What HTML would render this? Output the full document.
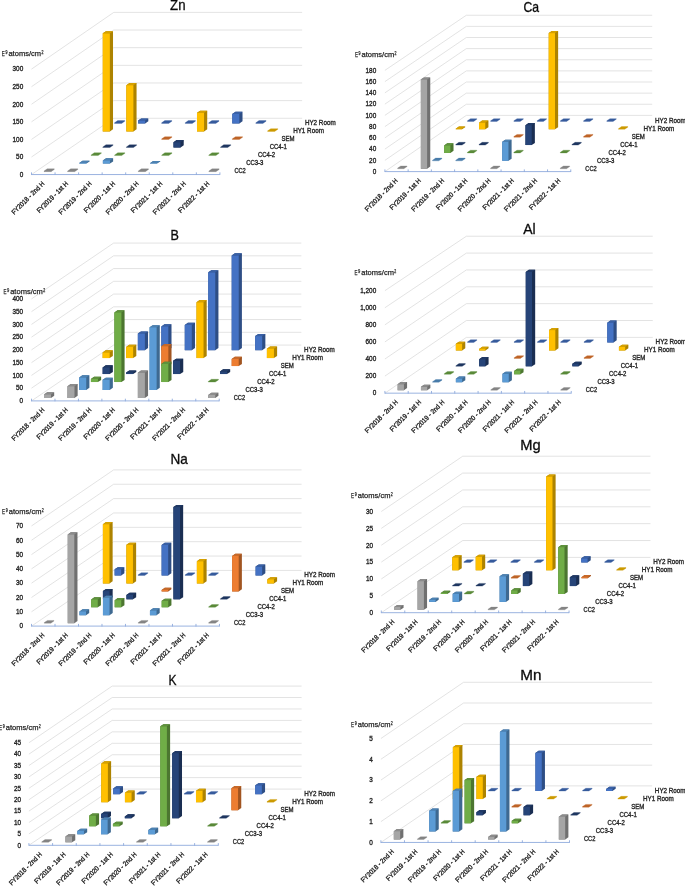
<!DOCTYPE html>
<html><head><meta charset="utf-8"><style>
html,body{margin:0;padding:0;background:#fff;}
svg{display:block;will-change:transform;}
text{font-family:"Liberation Sans",sans-serif;stroke:#262626;stroke-width:0.35px;}
</style></head><body>
<svg width="685" height="886" viewBox="0 0 685 886">
<rect width="685" height="886" fill="#fff"/>
<path d="M31.50 174.56L113.75 118.28L302.15 118.28 M31.50 156.99L113.75 100.63L302.15 100.63 M31.50 139.41L113.75 82.98L302.15 82.98 M31.50 121.84L113.75 65.33L302.15 65.33 M31.50 104.26L113.75 47.68L302.15 47.68 M31.50 86.69L113.75 30.03L302.15 30.03 M31.50 69.11L113.75 12.38L302.15 12.38" stroke="#d9d9d9" stroke-width="0.75" fill="none"/>
<text x="23.20" y="176.86" font-size="7.2" text-anchor="end" fill="#262626" textLength="3.55" lengthAdjust="spacingAndGlyphs">0</text>
<text x="23.20" y="159.29" font-size="7.2" text-anchor="end" fill="#262626" textLength="7.10" lengthAdjust="spacingAndGlyphs">50</text>
<text x="23.20" y="141.71" font-size="7.2" text-anchor="end" fill="#262626" textLength="10.65" lengthAdjust="spacingAndGlyphs">100</text>
<text x="23.20" y="124.14" font-size="7.2" text-anchor="end" fill="#262626" textLength="10.65" lengthAdjust="spacingAndGlyphs">150</text>
<text x="23.20" y="106.56" font-size="7.2" text-anchor="end" fill="#262626" textLength="10.65" lengthAdjust="spacingAndGlyphs">200</text>
<text x="23.20" y="88.98" font-size="7.2" text-anchor="end" fill="#262626" textLength="10.65" lengthAdjust="spacingAndGlyphs">250</text>
<text x="23.20" y="71.41" font-size="7.2" text-anchor="end" fill="#262626" textLength="10.65" lengthAdjust="spacingAndGlyphs">300</text>
<path d="M31.50 174.56H219.90 M31.50 174.96v-2.6 M55.05 174.96v-2.6 M78.60 174.96v-2.6 M102.15 174.96v-2.6 M125.70 174.96v-2.6 M149.25 174.96v-2.6 M172.80 174.96v-2.6 M196.35 174.96v-2.6 M219.90 174.96v-2.6" stroke="#8faadc" stroke-width="0.9" fill="none"/>
<polygon points="114.53,123.39 121.60,123.39 124.77,121.21 124.77,120.61 117.70,120.61 114.53,122.79" fill="#365b9d" stroke="#365b9d" stroke-width="0.3" stroke-linejoin="round"/>
<polygon points="138.08,123.39 145.15,123.39 148.32,121.21 148.32,118.40 141.25,118.40 138.08,120.57" fill="#2e4e85"/>
<polygon points="138.08,120.57 145.15,120.57 148.32,118.40 141.25,118.40" fill="#3960a5"/>
<polygon points="138.08,123.39 145.15,123.39 145.15,120.57 138.08,120.57" fill="#4472C4"/>
<polygon points="161.63,123.39 168.70,123.39 171.87,121.21 171.87,120.61 164.80,120.61 161.63,122.79" fill="#365b9d" stroke="#365b9d" stroke-width="0.3" stroke-linejoin="round"/>
<polygon points="185.18,123.39 192.25,123.39 195.42,121.21 195.42,120.61 188.35,120.61 185.18,122.79" fill="#365b9d" stroke="#365b9d" stroke-width="0.3" stroke-linejoin="round"/>
<polygon points="208.73,123.39 215.80,123.39 218.97,121.21 218.97,120.61 211.90,120.61 208.73,122.79" fill="#365b9d" stroke="#365b9d" stroke-width="0.3" stroke-linejoin="round"/>
<polygon points="232.28,123.39 239.35,123.39 242.52,121.21 242.52,111.72 235.45,111.72 232.28,113.89" fill="#2e4e85"/>
<polygon points="232.28,113.89 239.35,113.89 242.52,111.72 235.45,111.72" fill="#3960a5"/>
<polygon points="232.28,123.39 239.35,123.39 239.35,113.89 232.28,113.89" fill="#4472C4"/>
<polygon points="255.83,123.39 262.90,123.39 266.07,121.21 266.07,120.61 259.00,120.61 255.83,122.79" fill="#365b9d" stroke="#365b9d" stroke-width="0.3" stroke-linejoin="round"/>
<polygon points="102.78,131.43 109.85,131.43 113.02,129.25 113.02,31.19 105.95,31.19 102.78,33.36" fill="#ad8300"/>
<polygon points="102.78,33.36 109.85,33.36 113.02,31.19 105.95,31.19" fill="#d6a100"/>
<polygon points="102.78,131.43 109.85,131.43 109.85,33.36 102.78,33.36" fill="#FFC000"/>
<polygon points="126.33,131.43 133.40,131.43 136.57,129.25 136.57,83.03 129.50,83.03 126.33,85.20" fill="#ad8300"/>
<polygon points="126.33,85.20 133.40,85.20 136.57,83.03 129.50,83.03" fill="#d6a100"/>
<polygon points="126.33,131.43 133.40,131.43 133.40,85.20 126.33,85.20" fill="#FFC000"/>
<polygon points="196.98,131.43 204.05,131.43 207.22,129.25 207.22,110.63 200.15,110.63 196.98,112.80" fill="#ad8300"/>
<polygon points="196.98,112.80 204.05,112.80 207.22,110.63 200.15,110.63" fill="#d6a100"/>
<polygon points="196.98,131.43 204.05,131.43 204.05,112.80 196.98,112.80" fill="#FFC000"/>
<polygon points="267.63,131.43 274.70,131.43 277.87,129.25 277.87,128.65 270.80,128.65 267.63,130.83" fill="#cc9a00" stroke="#cc9a00" stroke-width="0.3" stroke-linejoin="round"/>
<polygon points="161.68,139.47 168.75,139.47 171.92,137.29 171.92,136.69 164.85,136.69 161.68,138.87" fill="#be6427" stroke="#be6427" stroke-width="0.3" stroke-linejoin="round"/>
<polygon points="232.33,139.47 239.40,139.47 242.57,137.29 242.57,136.69 235.50,136.69 232.33,138.87" fill="#be6427" stroke="#be6427" stroke-width="0.3" stroke-linejoin="round"/>
<polygon points="102.83,147.51 109.90,147.51 113.07,145.33 113.07,144.73 106.00,144.73 102.83,146.91" fill="#1e3660" stroke="#1e3660" stroke-width="0.3" stroke-linejoin="round"/>
<polygon points="126.38,147.51 133.45,147.51 136.62,145.33 136.62,144.73 129.55,144.73 126.38,146.91" fill="#1e3660" stroke="#1e3660" stroke-width="0.3" stroke-linejoin="round"/>
<polygon points="173.48,147.51 180.55,147.51 183.72,145.33 183.72,140.06 176.65,140.06 173.48,142.23" fill="#1a2e52"/>
<polygon points="173.48,142.23 180.55,142.23 183.72,140.06 176.65,140.06" fill="#203965"/>
<polygon points="173.48,147.51 180.55,147.51 180.55,142.23 173.48,142.23" fill="#264478"/>
<polygon points="220.58,147.51 227.65,147.51 230.82,145.33 230.82,144.73 223.75,144.73 220.58,146.91" fill="#1e3660" stroke="#1e3660" stroke-width="0.3" stroke-linejoin="round"/>
<polygon points="91.08,155.55 98.15,155.55 101.32,153.37 101.32,152.77 94.25,152.77 91.08,154.95" fill="#5a8a39" stroke="#5a8a39" stroke-width="0.3" stroke-linejoin="round"/>
<polygon points="114.63,155.55 121.70,155.55 124.87,153.37 124.87,152.77 117.80,152.77 114.63,154.95" fill="#5a8a39" stroke="#5a8a39" stroke-width="0.3" stroke-linejoin="round"/>
<polygon points="161.73,155.55 168.80,155.55 171.97,153.37 171.97,152.77 164.90,152.77 161.73,154.95" fill="#5a8a39" stroke="#5a8a39" stroke-width="0.3" stroke-linejoin="round"/>
<polygon points="208.83,155.55 215.90,155.55 219.07,153.37 219.07,152.77 212.00,152.77 208.83,154.95" fill="#5a8a39" stroke="#5a8a39" stroke-width="0.3" stroke-linejoin="round"/>
<polygon points="79.33,163.59 86.40,163.59 89.57,161.41 89.57,160.71 82.50,160.71 79.33,162.88" fill="#3e6991"/>
<polygon points="79.33,162.88 86.40,162.88 89.57,160.71 82.50,160.71" fill="#4c82b3"/>
<polygon points="79.33,163.59 86.40,163.59 86.40,162.88 79.33,162.88" fill="#5B9BD5"/>
<polygon points="102.88,163.59 109.95,163.59 113.12,161.41 113.12,158.25 106.05,158.25 102.88,160.42" fill="#3e6991"/>
<polygon points="102.88,160.42 109.95,160.42 113.12,158.25 106.05,158.25" fill="#4c82b3"/>
<polygon points="102.88,163.59 109.95,163.59 109.95,160.42 102.88,160.42" fill="#5B9BD5"/>
<polygon points="149.98,163.59 157.05,163.59 160.22,161.41 160.22,161.06 153.15,161.06 149.98,163.23" fill="#3e6991"/>
<polygon points="149.98,163.23 157.05,163.23 160.22,161.06 153.15,161.06" fill="#4c82b3"/>
<polygon points="149.98,163.59 157.05,163.59 157.05,163.23 149.98,163.23" fill="#5B9BD5"/>
<polygon points="44.03,171.63 51.10,171.63 54.27,169.45 54.27,168.85 47.20,168.85 44.03,171.03" fill="#848484" stroke="#848484" stroke-width="0.3" stroke-linejoin="round"/>
<polygon points="67.58,171.63 74.65,171.63 77.82,169.45 77.82,168.85 70.75,168.85 67.58,171.03" fill="#848484" stroke="#848484" stroke-width="0.3" stroke-linejoin="round"/>
<polygon points="138.23,171.63 145.30,171.63 148.47,169.45 148.47,168.85 141.40,168.85 138.23,171.03" fill="#848484" stroke="#848484" stroke-width="0.3" stroke-linejoin="round"/>
<polygon points="208.88,171.63 215.95,171.63 219.12,169.45 219.12,168.85 212.05,168.85 208.88,171.03" fill="#848484" stroke="#848484" stroke-width="0.3" stroke-linejoin="round"/>
<text x="234.40" y="173.16" font-size="7.1" text-anchor="start" fill="#262626" textLength="11.40" lengthAdjust="spacingAndGlyphs">CC2</text>
<text x="246.15" y="165.16" font-size="7.1" text-anchor="start" fill="#262626" textLength="17.30" lengthAdjust="spacingAndGlyphs">CC3-3</text>
<text x="257.90" y="157.16" font-size="7.1" text-anchor="start" fill="#262626" textLength="17.30" lengthAdjust="spacingAndGlyphs">CC4-2</text>
<text x="269.65" y="149.16" font-size="7.1" text-anchor="start" fill="#262626" textLength="17.30" lengthAdjust="spacingAndGlyphs">CC4-1</text>
<text x="281.40" y="141.16" font-size="7.1" text-anchor="start" fill="#262626" textLength="13.06" lengthAdjust="spacingAndGlyphs">SEM</text>
<text x="293.15" y="133.16" font-size="7.1" text-anchor="start" fill="#262626" textLength="30.73" lengthAdjust="spacingAndGlyphs">HY1 Room</text>
<text x="304.90" y="125.16" font-size="7.1" text-anchor="start" fill="#262626" textLength="30.73" lengthAdjust="spacingAndGlyphs">HY2 Room</text>
<text x="45.02" y="184.11" font-size="6.8" text-anchor="end" fill="#262626" textLength="43.58" lengthAdjust="spacingAndGlyphs" transform="rotate(-45 45.02 184.11)">FY2018 - 2nd H</text>
<text x="68.58" y="184.11" font-size="6.8" text-anchor="end" fill="#262626" textLength="41.28" lengthAdjust="spacingAndGlyphs" transform="rotate(-45 68.58 184.11)">FY2019 - 1st H</text>
<text x="92.12" y="184.11" font-size="6.8" text-anchor="end" fill="#262626" textLength="43.58" lengthAdjust="spacingAndGlyphs" transform="rotate(-45 92.12 184.11)">FY2019 - 2nd H</text>
<text x="115.67" y="184.11" font-size="6.8" text-anchor="end" fill="#262626" textLength="41.28" lengthAdjust="spacingAndGlyphs" transform="rotate(-45 115.67 184.11)">FY2020 - 1st H</text>
<text x="139.23" y="184.11" font-size="6.8" text-anchor="end" fill="#262626" textLength="43.58" lengthAdjust="spacingAndGlyphs" transform="rotate(-45 139.23 184.11)">FY2020 - 2nd H</text>
<text x="162.78" y="184.11" font-size="6.8" text-anchor="end" fill="#262626" textLength="41.28" lengthAdjust="spacingAndGlyphs" transform="rotate(-45 162.78 184.11)">FY2021 - 1st H</text>
<text x="186.33" y="184.11" font-size="6.8" text-anchor="end" fill="#262626" textLength="43.58" lengthAdjust="spacingAndGlyphs" transform="rotate(-45 186.33 184.11)">FY2021 - 2nd H</text>
<text x="209.88" y="184.11" font-size="6.8" text-anchor="end" fill="#262626" textLength="41.28" lengthAdjust="spacingAndGlyphs" transform="rotate(-45 209.88 184.11)">FY2022 - 1st H</text>
<text x="177.80" y="10.30" font-size="14.3" text-anchor="middle" fill="#000" textLength="15.45" lengthAdjust="spacingAndGlyphs">Zn</text>
<text x="1.75" y="56.20" font-size="7.4" text-anchor="start" fill="#262626" textLength="2.99" lengthAdjust="spacingAndGlyphs" style="stroke-width:0.25px">E</text>
<text x="5.45" y="54.20" font-size="4.8" text-anchor="start" fill="#262626" textLength="1.99" lengthAdjust="spacingAndGlyphs" style="stroke-width:0.25px">9</text>
<text x="8.45" y="56.20" font-size="7.4" text-anchor="start" fill="#262626" textLength="32.63" lengthAdjust="spacingAndGlyphs" style="stroke-width:0.25px">atoms/cm</text>
<text x="41.45" y="54.20" font-size="4.8" text-anchor="start" fill="#262626" textLength="1.99" lengthAdjust="spacingAndGlyphs" style="stroke-width:0.25px">2</text>
<path d="M384.90 171.60L466.31 115.39L652.19 115.39 M384.90 160.35L466.31 104.26L652.19 104.26 M384.90 149.10L466.31 93.14L652.19 93.14 M384.90 137.86L466.31 82.01L652.19 82.01 M384.90 126.61L466.31 70.89L652.19 70.89 M384.90 115.36L466.31 59.76L652.19 59.76 M384.90 104.11L466.31 48.63L652.19 48.63 M384.90 92.86L466.31 37.51L652.19 37.51 M384.90 81.62L466.31 26.38L652.19 26.38 M384.90 70.37L466.31 15.26L652.19 15.26" stroke="#d9d9d9" stroke-width="0.75" fill="none"/>
<text x="376.20" y="173.90" font-size="7.2" text-anchor="end" fill="#262626" textLength="3.55" lengthAdjust="spacingAndGlyphs">0</text>
<text x="376.20" y="162.65" font-size="7.2" text-anchor="end" fill="#262626" textLength="7.10" lengthAdjust="spacingAndGlyphs">20</text>
<text x="376.20" y="151.40" font-size="7.2" text-anchor="end" fill="#262626" textLength="7.10" lengthAdjust="spacingAndGlyphs">40</text>
<text x="376.20" y="140.16" font-size="7.2" text-anchor="end" fill="#262626" textLength="7.10" lengthAdjust="spacingAndGlyphs">60</text>
<text x="376.20" y="128.91" font-size="7.2" text-anchor="end" fill="#262626" textLength="7.10" lengthAdjust="spacingAndGlyphs">80</text>
<text x="376.20" y="117.66" font-size="7.2" text-anchor="end" fill="#262626" textLength="10.65" lengthAdjust="spacingAndGlyphs">100</text>
<text x="376.20" y="106.41" font-size="7.2" text-anchor="end" fill="#262626" textLength="10.65" lengthAdjust="spacingAndGlyphs">120</text>
<text x="376.20" y="95.16" font-size="7.2" text-anchor="end" fill="#262626" textLength="10.65" lengthAdjust="spacingAndGlyphs">140</text>
<text x="376.20" y="83.92" font-size="7.2" text-anchor="end" fill="#262626" textLength="10.65" lengthAdjust="spacingAndGlyphs">160</text>
<text x="376.20" y="72.67" font-size="7.2" text-anchor="end" fill="#262626" textLength="10.65" lengthAdjust="spacingAndGlyphs">180</text>
<path d="M384.90 171.60H570.78 M384.90 172.00v-2.6 M408.13 172.00v-2.6 M431.37 172.00v-2.6 M454.60 172.00v-2.6 M477.84 172.00v-2.6 M501.07 172.00v-2.6 M524.31 172.00v-2.6 M547.54 172.00v-2.6 M570.78 172.00v-2.6" stroke="#8faadc" stroke-width="0.9" fill="none"/>
<polygon points="467.41,121.38 473.68,121.38 476.82,119.25 476.82,118.65 470.55,118.65 467.41,120.78" fill="#365b9d" stroke="#365b9d" stroke-width="0.3" stroke-linejoin="round"/>
<polygon points="490.64,121.38 496.91,121.38 500.05,119.25 500.05,118.65 493.78,118.65 490.64,120.78" fill="#365b9d" stroke="#365b9d" stroke-width="0.3" stroke-linejoin="round"/>
<polygon points="513.88,121.38 520.15,121.38 523.29,119.25 523.29,118.65 517.02,118.65 513.88,120.78" fill="#365b9d" stroke="#365b9d" stroke-width="0.3" stroke-linejoin="round"/>
<polygon points="537.11,121.38 543.38,121.38 546.52,119.25 546.52,118.65 540.25,118.65 537.11,120.78" fill="#365b9d" stroke="#365b9d" stroke-width="0.3" stroke-linejoin="round"/>
<polygon points="560.35,121.38 566.62,121.38 569.76,119.25 569.76,118.65 563.49,118.65 560.35,120.78" fill="#365b9d" stroke="#365b9d" stroke-width="0.3" stroke-linejoin="round"/>
<polygon points="583.58,121.38 589.85,121.38 592.99,119.25 592.99,118.65 586.72,118.65 583.58,120.78" fill="#365b9d" stroke="#365b9d" stroke-width="0.3" stroke-linejoin="round"/>
<polygon points="606.82,121.38 613.09,121.38 616.23,119.25 616.23,118.65 609.96,118.65 606.82,120.78" fill="#365b9d" stroke="#365b9d" stroke-width="0.3" stroke-linejoin="round"/>
<polygon points="455.78,129.27 462.05,129.27 465.19,127.14 465.19,126.58 458.92,126.58 455.78,128.71" fill="#ad8300"/>
<polygon points="455.78,128.71 462.05,128.71 465.19,126.58 458.92,126.58" fill="#d6a100"/>
<polygon points="455.78,129.27 462.05,129.27 462.05,128.71 455.78,128.71" fill="#FFC000"/>
<polygon points="479.01,129.27 485.28,129.27 488.42,127.14 488.42,120.62 482.15,120.62 479.01,122.75" fill="#ad8300"/>
<polygon points="479.01,122.75 485.28,122.75 488.42,120.62 482.15,120.62" fill="#d6a100"/>
<polygon points="479.01,129.27 485.28,129.27 485.28,122.75 479.01,122.75" fill="#FFC000"/>
<polygon points="548.72,129.27 554.99,129.27 558.13,127.14 558.13,30.97 551.86,30.97 548.72,33.10" fill="#ad8300"/>
<polygon points="548.72,33.10 554.99,33.10 558.13,30.97 551.86,30.97" fill="#d6a100"/>
<polygon points="548.72,129.27 554.99,129.27 554.99,33.10 548.72,33.10" fill="#FFC000"/>
<polygon points="618.42,129.27 624.69,129.27 627.83,127.14 627.83,126.54 621.56,126.54 618.42,128.67" fill="#cc9a00" stroke="#cc9a00" stroke-width="0.3" stroke-linejoin="round"/>
<polygon points="513.85,137.16 520.12,137.16 523.26,135.03 523.26,134.43 516.99,134.43 513.85,136.56" fill="#be6427" stroke="#be6427" stroke-width="0.3" stroke-linejoin="round"/>
<polygon points="583.56,137.16 589.83,137.16 592.97,135.03 592.97,134.43 586.70,134.43 583.56,136.56" fill="#be6427" stroke="#be6427" stroke-width="0.3" stroke-linejoin="round"/>
<polygon points="455.75,145.05 462.02,145.05 465.16,142.92 465.16,142.32 458.89,142.32 455.75,144.45" fill="#1e3660" stroke="#1e3660" stroke-width="0.3" stroke-linejoin="round"/>
<polygon points="478.99,145.05 485.26,145.05 488.40,142.92 488.40,142.32 482.13,142.32 478.99,144.45" fill="#1e3660" stroke="#1e3660" stroke-width="0.3" stroke-linejoin="round"/>
<polygon points="525.46,145.05 531.73,145.05 534.87,142.92 534.87,123.07 528.60,123.07 525.46,125.20" fill="#1a2e52"/>
<polygon points="525.46,125.20 531.73,125.20 534.87,123.07 528.60,123.07" fill="#203965"/>
<polygon points="525.46,145.05 531.73,145.05 531.73,125.20 525.46,125.20" fill="#264478"/>
<polygon points="571.93,145.05 578.20,145.05 581.34,142.92 581.34,142.32 575.07,142.32 571.93,144.45" fill="#1e3660" stroke="#1e3660" stroke-width="0.3" stroke-linejoin="round"/>
<polygon points="444.12,152.94 450.39,152.94 453.53,150.81 453.53,143.33 447.26,143.33 444.12,145.46" fill="#4c7630"/>
<polygon points="444.12,145.46 450.39,145.46 453.53,143.33 447.26,143.33" fill="#5e913c"/>
<polygon points="444.12,152.94 450.39,152.94 450.39,145.46 444.12,145.46" fill="#70AD47"/>
<polygon points="467.36,152.94 473.63,152.94 476.77,150.81 476.77,150.21 470.50,150.21 467.36,152.34" fill="#5a8a39" stroke="#5a8a39" stroke-width="0.3" stroke-linejoin="round"/>
<polygon points="513.83,152.94 520.10,152.94 523.24,150.81 523.24,150.21 516.97,150.21 513.83,152.34" fill="#5a8a39" stroke="#5a8a39" stroke-width="0.3" stroke-linejoin="round"/>
<polygon points="560.30,152.94 566.57,152.94 569.71,150.81 569.71,150.21 563.44,150.21 560.30,152.34" fill="#5a8a39" stroke="#5a8a39" stroke-width="0.3" stroke-linejoin="round"/>
<polygon points="432.49,160.83 438.76,160.83 441.90,158.70 441.90,158.10 435.63,158.10 432.49,160.23" fill="#497caa" stroke="#497caa" stroke-width="0.3" stroke-linejoin="round"/>
<polygon points="455.73,160.83 462.00,160.83 465.14,158.70 465.14,158.10 458.87,158.10 455.73,160.23" fill="#497caa" stroke="#497caa" stroke-width="0.3" stroke-linejoin="round"/>
<polygon points="502.20,160.83 508.47,160.83 511.61,158.70 511.61,139.69 505.34,139.69 502.20,141.82" fill="#3e6991"/>
<polygon points="502.20,141.82 508.47,141.82 511.61,139.69 505.34,139.69" fill="#4c82b3"/>
<polygon points="502.20,160.83 508.47,160.83 508.47,141.82 502.20,141.82" fill="#5B9BD5"/>
<polygon points="397.63,168.72 403.90,168.72 407.04,166.59 407.04,165.99 400.77,165.99 397.63,168.12" fill="#848484" stroke="#848484" stroke-width="0.3" stroke-linejoin="round"/>
<polygon points="420.86,168.72 427.13,168.72 430.27,166.59 430.27,77.39 424.00,77.39 420.86,79.52" fill="#707070"/>
<polygon points="420.86,79.52 427.13,79.52 430.27,77.39 424.00,77.39" fill="#8b8b8b"/>
<polygon points="420.86,168.72 427.13,168.72 427.13,79.52 420.86,79.52" fill="#A5A5A5"/>
<polygon points="490.57,168.72 496.84,168.72 499.98,166.59 499.98,165.99 493.71,165.99 490.57,168.12" fill="#848484" stroke="#848484" stroke-width="0.3" stroke-linejoin="round"/>
<polygon points="560.27,168.72 566.54,168.72 569.68,166.59 569.68,165.99 563.41,165.99 560.27,168.12" fill="#848484" stroke="#848484" stroke-width="0.3" stroke-linejoin="round"/>
<text x="585.28" y="170.90" font-size="7.1" text-anchor="start" fill="#262626" textLength="11.40" lengthAdjust="spacingAndGlyphs">CC2</text>
<text x="596.91" y="162.99" font-size="7.1" text-anchor="start" fill="#262626" textLength="17.30" lengthAdjust="spacingAndGlyphs">CC3-3</text>
<text x="608.54" y="155.08" font-size="7.1" text-anchor="start" fill="#262626" textLength="17.30" lengthAdjust="spacingAndGlyphs">CC4-2</text>
<text x="620.17" y="147.17" font-size="7.1" text-anchor="start" fill="#262626" textLength="17.30" lengthAdjust="spacingAndGlyphs">CC4-1</text>
<text x="631.80" y="139.26" font-size="7.1" text-anchor="start" fill="#262626" textLength="13.06" lengthAdjust="spacingAndGlyphs">SEM</text>
<text x="643.43" y="131.35" font-size="7.1" text-anchor="start" fill="#262626" textLength="30.73" lengthAdjust="spacingAndGlyphs">HY1 Room</text>
<text x="655.06" y="123.44" font-size="7.1" text-anchor="start" fill="#262626" textLength="30.73" lengthAdjust="spacingAndGlyphs">HY2 Room</text>
<text x="398.27" y="181.15" font-size="6.8" text-anchor="end" fill="#262626" textLength="43.58" lengthAdjust="spacingAndGlyphs" transform="rotate(-45 398.27 181.15)">FY2018 - 2nd H</text>
<text x="421.50" y="181.15" font-size="6.8" text-anchor="end" fill="#262626" textLength="41.28" lengthAdjust="spacingAndGlyphs" transform="rotate(-45 421.50 181.15)">FY2019 - 1st H</text>
<text x="444.74" y="181.15" font-size="6.8" text-anchor="end" fill="#262626" textLength="43.58" lengthAdjust="spacingAndGlyphs" transform="rotate(-45 444.74 181.15)">FY2019 - 2nd H</text>
<text x="467.97" y="181.15" font-size="6.8" text-anchor="end" fill="#262626" textLength="41.28" lengthAdjust="spacingAndGlyphs" transform="rotate(-45 467.97 181.15)">FY2020 - 1st H</text>
<text x="491.21" y="181.15" font-size="6.8" text-anchor="end" fill="#262626" textLength="43.58" lengthAdjust="spacingAndGlyphs" transform="rotate(-45 491.21 181.15)">FY2020 - 2nd H</text>
<text x="514.44" y="181.15" font-size="6.8" text-anchor="end" fill="#262626" textLength="41.28" lengthAdjust="spacingAndGlyphs" transform="rotate(-45 514.44 181.15)">FY2021 - 1st H</text>
<text x="537.68" y="181.15" font-size="6.8" text-anchor="end" fill="#262626" textLength="43.58" lengthAdjust="spacingAndGlyphs" transform="rotate(-45 537.68 181.15)">FY2021 - 2nd H</text>
<text x="560.91" y="181.15" font-size="6.8" text-anchor="end" fill="#262626" textLength="41.28" lengthAdjust="spacingAndGlyphs" transform="rotate(-45 560.91 181.15)">FY2022 - 1st H</text>
<text x="531.20" y="11.80" font-size="14.3" text-anchor="middle" fill="#000" textLength="15.58" lengthAdjust="spacingAndGlyphs">Ca</text>
<text x="354.90" y="57.10" font-size="7.4" text-anchor="start" fill="#262626" textLength="2.99" lengthAdjust="spacingAndGlyphs" style="stroke-width:0.25px">E</text>
<text x="358.60" y="55.10" font-size="4.8" text-anchor="start" fill="#262626" textLength="1.99" lengthAdjust="spacingAndGlyphs" style="stroke-width:0.25px">9</text>
<text x="361.60" y="57.10" font-size="7.4" text-anchor="start" fill="#262626" textLength="32.63" lengthAdjust="spacingAndGlyphs" style="stroke-width:0.25px">atoms/cm</text>
<text x="394.60" y="55.10" font-size="4.8" text-anchor="start" fill="#262626" textLength="1.99" lengthAdjust="spacingAndGlyphs" style="stroke-width:0.25px">2</text>
<path d="M31.50 400.90L113.61 345.07L301.33 345.07 M31.50 388.15L113.61 332.32L301.33 332.32 M31.50 375.40L113.61 319.57L301.33 319.57 M31.50 362.65L113.61 306.82L301.33 306.82 M31.50 349.90L113.61 294.07L301.33 294.07 M31.50 337.15L113.61 281.32L301.33 281.32 M31.50 324.40L113.61 268.57L301.33 268.57 M31.50 311.65L113.61 255.82L301.33 255.82 M31.50 298.90L113.61 243.07L301.33 243.07" stroke="#d9d9d9" stroke-width="0.75" fill="none"/>
<text x="23.10" y="403.20" font-size="7.2" text-anchor="end" fill="#262626" textLength="3.55" lengthAdjust="spacingAndGlyphs">0</text>
<text x="23.10" y="390.45" font-size="7.2" text-anchor="end" fill="#262626" textLength="7.10" lengthAdjust="spacingAndGlyphs">50</text>
<text x="23.10" y="377.70" font-size="7.2" text-anchor="end" fill="#262626" textLength="10.65" lengthAdjust="spacingAndGlyphs">100</text>
<text x="23.10" y="364.95" font-size="7.2" text-anchor="end" fill="#262626" textLength="10.65" lengthAdjust="spacingAndGlyphs">150</text>
<text x="23.10" y="352.20" font-size="7.2" text-anchor="end" fill="#262626" textLength="10.65" lengthAdjust="spacingAndGlyphs">200</text>
<text x="23.10" y="339.45" font-size="7.2" text-anchor="end" fill="#262626" textLength="10.65" lengthAdjust="spacingAndGlyphs">250</text>
<text x="23.10" y="326.70" font-size="7.2" text-anchor="end" fill="#262626" textLength="10.65" lengthAdjust="spacingAndGlyphs">300</text>
<text x="23.10" y="313.95" font-size="7.2" text-anchor="end" fill="#262626" textLength="10.65" lengthAdjust="spacingAndGlyphs">350</text>
<text x="23.10" y="301.20" font-size="7.2" text-anchor="end" fill="#262626" textLength="10.65" lengthAdjust="spacingAndGlyphs">400</text>
<path d="M31.50 400.90H219.22 M31.50 401.30v-2.6 M54.97 401.30v-2.6 M78.43 401.30v-2.6 M101.89 401.30v-2.6 M125.36 401.30v-2.6 M148.82 401.30v-2.6 M172.29 401.30v-2.6 M195.75 401.30v-2.6 M219.22 401.30v-2.6" stroke="#8faadc" stroke-width="0.9" fill="none"/>
<polygon points="137.84,350.13 144.88,350.13 148.05,347.98 148.05,331.40 141.01,331.40 137.84,333.56" fill="#2e4e85"/>
<polygon points="137.84,333.56 144.88,333.56 148.05,331.40 141.01,331.40" fill="#3960a5"/>
<polygon points="137.84,350.13 144.88,350.13 144.88,333.56 137.84,333.56" fill="#4472C4"/>
<polygon points="161.30,350.13 168.34,350.13 171.51,347.98 171.51,324.26 164.47,324.26 161.30,326.42" fill="#2e4e85"/>
<polygon points="161.30,326.42 168.34,326.42 171.51,324.26 164.47,324.26" fill="#3960a5"/>
<polygon points="161.30,350.13 168.34,350.13 168.34,326.42 161.30,326.42" fill="#4472C4"/>
<polygon points="184.77,350.13 191.81,350.13 194.98,347.98 194.98,322.73 187.94,322.73 184.77,324.89" fill="#2e4e85"/>
<polygon points="184.77,324.89 191.81,324.89 194.98,322.73 187.94,322.73" fill="#3960a5"/>
<polygon points="184.77,350.13 191.81,350.13 191.81,324.89 184.77,324.89" fill="#4472C4"/>
<polygon points="208.23,350.13 215.27,350.13 218.44,347.98 218.44,270.20 211.40,270.20 208.23,272.36" fill="#2e4e85"/>
<polygon points="208.23,272.36 215.27,272.36 218.44,270.20 211.40,270.20" fill="#3960a5"/>
<polygon points="208.23,350.13 215.27,350.13 215.27,272.36 208.23,272.36" fill="#4472C4"/>
<polygon points="231.70,350.13 238.74,350.13 241.91,347.98 241.91,253.37 234.87,253.37 231.70,255.53" fill="#2e4e85"/>
<polygon points="231.70,255.53 238.74,255.53 241.91,253.37 234.87,253.37" fill="#3960a5"/>
<polygon points="231.70,350.13 238.74,350.13 238.74,255.53 231.70,255.53" fill="#4472C4"/>
<polygon points="255.16,350.13 262.20,350.13 265.37,347.98 265.37,333.95 258.33,333.95 255.16,336.11" fill="#2e4e85"/>
<polygon points="255.16,336.11 262.20,336.11 265.37,333.95 258.33,333.95" fill="#3960a5"/>
<polygon points="255.16,350.13 262.20,350.13 262.20,336.11 255.16,336.11" fill="#4472C4"/>
<polygon points="102.64,358.11 109.68,358.11 112.85,355.96 112.85,350.35 105.81,350.35 102.64,352.50" fill="#ad8300"/>
<polygon points="102.64,352.50 109.68,352.50 112.85,350.35 105.81,350.35" fill="#d6a100"/>
<polygon points="102.64,358.11 109.68,358.11 109.68,352.50 102.64,352.50" fill="#FFC000"/>
<polygon points="126.11,358.11 133.15,358.11 136.32,355.96 136.32,344.74 129.28,344.74 126.11,346.89" fill="#ad8300"/>
<polygon points="126.11,346.89 133.15,346.89 136.32,344.74 129.28,344.74" fill="#d6a100"/>
<polygon points="126.11,358.11 133.15,358.11 133.15,346.89 126.11,346.89" fill="#FFC000"/>
<polygon points="196.50,358.11 203.54,358.11 206.71,355.96 206.71,300.11 199.67,300.11 196.50,302.26" fill="#ad8300"/>
<polygon points="196.50,302.26 203.54,302.26 206.71,300.11 199.67,300.11" fill="#d6a100"/>
<polygon points="196.50,358.11 203.54,358.11 203.54,302.26 196.50,302.26" fill="#FFC000"/>
<polygon points="266.90,358.11 273.94,358.11 277.11,355.96 277.11,346.52 270.07,346.52 266.90,348.67" fill="#ad8300"/>
<polygon points="266.90,348.67 273.94,348.67 277.11,346.52 270.07,346.52" fill="#d6a100"/>
<polygon points="266.90,358.11 273.94,358.11 273.94,348.67 266.90,348.67" fill="#FFC000"/>
<polygon points="161.31,366.08 168.35,366.08 171.52,363.93 171.52,344.04 164.48,344.04 161.31,346.19" fill="#a15521"/>
<polygon points="161.31,346.19 168.35,346.19 171.52,344.04 164.48,344.04" fill="#c76929"/>
<polygon points="161.31,366.08 168.35,366.08 168.35,346.19 161.31,346.19" fill="#ED7D31"/>
<polygon points="231.70,366.08 238.74,366.08 241.91,363.93 241.91,356.79 234.87,356.79 231.70,358.94" fill="#a15521"/>
<polygon points="231.70,358.94 238.74,358.94 241.91,356.79 234.87,356.79" fill="#c76929"/>
<polygon points="231.70,366.08 238.74,366.08 238.74,358.94 231.70,358.94" fill="#ED7D31"/>
<polygon points="102.65,374.06 109.69,374.06 112.86,371.91 112.86,365.28 105.82,365.28 102.65,367.43" fill="#1a2e52"/>
<polygon points="102.65,367.43 109.69,367.43 112.86,365.28 105.82,365.28" fill="#203965"/>
<polygon points="102.65,374.06 109.69,374.06 109.69,367.43 102.65,367.43" fill="#264478"/>
<polygon points="126.11,374.06 133.15,374.06 136.32,371.91 136.32,370.38 129.28,370.38 126.11,372.53" fill="#1a2e52"/>
<polygon points="126.11,372.53 133.15,372.53 136.32,370.38 129.28,370.38" fill="#203965"/>
<polygon points="126.11,374.06 133.15,374.06 133.15,372.53 126.11,372.53" fill="#264478"/>
<polygon points="173.04,374.06 180.08,374.06 183.25,371.91 183.25,358.65 176.21,358.65 173.04,360.80" fill="#1a2e52"/>
<polygon points="173.04,360.80 180.08,360.80 183.25,358.65 176.21,358.65" fill="#203965"/>
<polygon points="173.04,374.06 180.08,374.06 180.08,360.80 173.04,360.80" fill="#264478"/>
<polygon points="219.97,374.06 227.01,374.06 230.18,371.91 230.18,369.36 223.14,369.36 219.97,371.51" fill="#1a2e52"/>
<polygon points="219.97,371.51 227.01,371.51 230.18,369.36 223.14,369.36" fill="#203965"/>
<polygon points="219.97,374.06 227.01,374.06 227.01,371.51 219.97,371.51" fill="#264478"/>
<polygon points="90.92,382.04 97.96,382.04 101.13,379.88 101.13,376.82 94.09,376.82 90.92,378.98" fill="#4c7630"/>
<polygon points="90.92,378.98 97.96,378.98 101.13,376.82 94.09,376.82" fill="#5e913c"/>
<polygon points="90.92,382.04 97.96,382.04 97.96,378.98 90.92,378.98" fill="#70AD47"/>
<polygon points="114.38,382.04 121.42,382.04 124.59,379.88 124.59,310.27 117.55,310.27 114.38,312.42" fill="#4c7630"/>
<polygon points="114.38,312.42 121.42,312.42 124.59,310.27 117.55,310.27" fill="#5e913c"/>
<polygon points="114.38,382.04 121.42,382.04 121.42,312.42 114.38,312.42" fill="#70AD47"/>
<polygon points="161.31,382.04 168.35,382.04 171.52,379.88 171.52,361.78 164.48,361.78 161.31,363.93" fill="#4c7630"/>
<polygon points="161.31,363.93 168.35,363.93 171.52,361.78 164.48,361.78" fill="#5e913c"/>
<polygon points="161.31,382.04 168.35,382.04 168.35,363.93 161.31,363.93" fill="#70AD47"/>
<polygon points="208.24,382.04 215.28,382.04 218.45,379.88 218.45,379.28 211.41,379.28 208.24,381.44" fill="#5a8a39" stroke="#5a8a39" stroke-width="0.3" stroke-linejoin="round"/>
<polygon points="79.19,390.01 86.23,390.01 89.40,387.86 89.40,375.36 82.36,375.36 79.19,377.52" fill="#3e6991"/>
<polygon points="79.19,377.52 86.23,377.52 89.40,375.36 82.36,375.36" fill="#4c82b3"/>
<polygon points="79.19,390.01 86.23,390.01 86.23,377.52 79.19,377.52" fill="#5B9BD5"/>
<polygon points="102.65,390.01 109.69,390.01 112.86,387.86 112.86,377.66 105.82,377.66 102.65,379.81" fill="#3e6991"/>
<polygon points="102.65,379.81 109.69,379.81 112.86,377.66 105.82,377.66" fill="#4c82b3"/>
<polygon points="102.65,390.01 109.69,390.01 109.69,379.81 102.65,379.81" fill="#5B9BD5"/>
<polygon points="149.58,390.01 156.62,390.01 159.79,387.86 159.79,325.13 152.75,325.13 149.58,327.28" fill="#3e6991"/>
<polygon points="149.58,327.28 156.62,327.28 159.79,325.13 152.75,325.13" fill="#4c82b3"/>
<polygon points="149.58,390.01 156.62,390.01 156.62,327.28 149.58,327.28" fill="#5B9BD5"/>
<polygon points="43.99,397.99 51.03,397.99 54.20,395.84 54.20,392.27 47.16,392.27 43.99,394.42" fill="#707070"/>
<polygon points="43.99,394.42 51.03,394.42 54.20,392.27 47.16,392.27" fill="#8b8b8b"/>
<polygon points="43.99,397.99 51.03,397.99 51.03,394.42 43.99,394.42" fill="#A5A5A5"/>
<polygon points="67.46,397.99 74.50,397.99 77.67,395.84 77.67,384.11 70.63,384.11 67.46,386.26" fill="#707070"/>
<polygon points="67.46,386.26 74.50,386.26 77.67,384.11 70.63,384.11" fill="#8b8b8b"/>
<polygon points="67.46,397.99 74.50,397.99 74.50,386.26 67.46,386.26" fill="#A5A5A5"/>
<polygon points="137.85,397.99 144.89,397.99 148.06,395.84 148.06,370.59 141.02,370.59 137.85,372.74" fill="#707070"/>
<polygon points="137.85,372.74 144.89,372.74 148.06,370.59 141.02,370.59" fill="#8b8b8b"/>
<polygon points="137.85,397.99 144.89,397.99 144.89,372.74 137.85,372.74" fill="#A5A5A5"/>
<polygon points="208.25,397.99 215.29,397.99 218.46,395.84 218.46,392.78 211.42,392.78 208.25,394.93" fill="#707070"/>
<polygon points="208.25,394.93 215.29,394.93 218.46,392.78 211.42,392.78" fill="#8b8b8b"/>
<polygon points="208.25,397.99 215.29,397.99 215.29,394.93 208.25,394.93" fill="#A5A5A5"/>
<text x="233.72" y="400.20" font-size="7.1" text-anchor="start" fill="#262626" textLength="11.40" lengthAdjust="spacingAndGlyphs">CC2</text>
<text x="245.45" y="392.14" font-size="7.1" text-anchor="start" fill="#262626" textLength="17.30" lengthAdjust="spacingAndGlyphs">CC3-3</text>
<text x="257.18" y="384.09" font-size="7.1" text-anchor="start" fill="#262626" textLength="17.30" lengthAdjust="spacingAndGlyphs">CC4-2</text>
<text x="268.91" y="376.03" font-size="7.1" text-anchor="start" fill="#262626" textLength="17.30" lengthAdjust="spacingAndGlyphs">CC4-1</text>
<text x="280.64" y="367.98" font-size="7.1" text-anchor="start" fill="#262626" textLength="13.06" lengthAdjust="spacingAndGlyphs">SEM</text>
<text x="292.37" y="359.92" font-size="7.1" text-anchor="start" fill="#262626" textLength="30.73" lengthAdjust="spacingAndGlyphs">HY1 Room</text>
<text x="304.10" y="351.87" font-size="7.1" text-anchor="start" fill="#262626" textLength="30.73" lengthAdjust="spacingAndGlyphs">HY2 Room</text>
<text x="44.98" y="410.45" font-size="6.8" text-anchor="end" fill="#262626" textLength="43.58" lengthAdjust="spacingAndGlyphs" transform="rotate(-45 44.98 410.45)">FY2018 - 2nd H</text>
<text x="68.45" y="410.45" font-size="6.8" text-anchor="end" fill="#262626" textLength="41.28" lengthAdjust="spacingAndGlyphs" transform="rotate(-45 68.45 410.45)">FY2019 - 1st H</text>
<text x="91.91" y="410.45" font-size="6.8" text-anchor="end" fill="#262626" textLength="43.58" lengthAdjust="spacingAndGlyphs" transform="rotate(-45 91.91 410.45)">FY2019 - 2nd H</text>
<text x="115.38" y="410.45" font-size="6.8" text-anchor="end" fill="#262626" textLength="41.28" lengthAdjust="spacingAndGlyphs" transform="rotate(-45 115.38 410.45)">FY2020 - 1st H</text>
<text x="138.84" y="410.45" font-size="6.8" text-anchor="end" fill="#262626" textLength="43.58" lengthAdjust="spacingAndGlyphs" transform="rotate(-45 138.84 410.45)">FY2020 - 2nd H</text>
<text x="162.31" y="410.45" font-size="6.8" text-anchor="end" fill="#262626" textLength="41.28" lengthAdjust="spacingAndGlyphs" transform="rotate(-45 162.31 410.45)">FY2021 - 1st H</text>
<text x="185.77" y="410.45" font-size="6.8" text-anchor="end" fill="#262626" textLength="43.58" lengthAdjust="spacingAndGlyphs" transform="rotate(-45 185.77 410.45)">FY2021 - 2nd H</text>
<text x="209.24" y="410.45" font-size="6.8" text-anchor="end" fill="#262626" textLength="41.28" lengthAdjust="spacingAndGlyphs" transform="rotate(-45 209.24 410.45)">FY2022 - 1st H</text>
<text x="174.70" y="239.50" font-size="14.3" text-anchor="middle" fill="#000" textLength="8.38" lengthAdjust="spacingAndGlyphs">B</text>
<text x="3.50" y="294.00" font-size="7.4" text-anchor="start" fill="#262626" textLength="2.99" lengthAdjust="spacingAndGlyphs" style="stroke-width:0.25px">E</text>
<text x="7.20" y="292.00" font-size="4.8" text-anchor="start" fill="#262626" textLength="1.99" lengthAdjust="spacingAndGlyphs" style="stroke-width:0.25px">9</text>
<text x="10.20" y="294.00" font-size="7.4" text-anchor="start" fill="#262626" textLength="32.63" lengthAdjust="spacingAndGlyphs" style="stroke-width:0.25px">atoms/cm</text>
<text x="43.20" y="292.00" font-size="4.8" text-anchor="start" fill="#262626" textLength="1.99" lengthAdjust="spacingAndGlyphs" style="stroke-width:0.25px">2</text>
<path d="M384.90 393.16L466.38 337.39L652.74 337.39 M384.90 376.08L466.38 320.53L652.74 320.53 M384.90 359.00L466.38 303.67L652.74 303.67 M384.90 341.92L466.38 286.81L652.74 286.81 M384.90 324.84L466.38 269.95L652.74 269.95 M384.90 307.76L466.38 253.09L652.74 253.09 M384.90 290.68L466.38 236.23L652.74 236.23" stroke="#d9d9d9" stroke-width="0.75" fill="none"/>
<text x="376.20" y="395.46" font-size="7.2" text-anchor="end" fill="#262626" textLength="3.55" lengthAdjust="spacingAndGlyphs">0</text>
<text x="376.20" y="378.38" font-size="7.2" text-anchor="end" fill="#262626" textLength="10.65" lengthAdjust="spacingAndGlyphs">200</text>
<text x="376.20" y="361.30" font-size="7.2" text-anchor="end" fill="#262626" textLength="10.65" lengthAdjust="spacingAndGlyphs">400</text>
<text x="376.20" y="344.22" font-size="7.2" text-anchor="end" fill="#262626" textLength="10.65" lengthAdjust="spacingAndGlyphs">600</text>
<text x="376.20" y="327.14" font-size="7.2" text-anchor="end" fill="#262626" textLength="10.65" lengthAdjust="spacingAndGlyphs">800</text>
<text x="376.20" y="310.06" font-size="7.2" text-anchor="end" fill="#262626" textLength="15.95" lengthAdjust="spacingAndGlyphs">1,000</text>
<text x="376.20" y="292.98" font-size="7.2" text-anchor="end" fill="#262626" textLength="15.95" lengthAdjust="spacingAndGlyphs">1,200</text>
<path d="M384.90 393.16H571.26 M384.90 393.56v-2.6 M408.19 393.56v-2.6 M431.49 393.56v-2.6 M454.78 393.56v-2.6 M478.08 393.56v-2.6 M501.38 393.56v-2.6 M524.67 393.56v-2.6 M547.96 393.56v-2.6 M571.26 393.56v-2.6" stroke="#8faadc" stroke-width="0.9" fill="none"/>
<polygon points="467.49,342.45 473.78,342.45 476.92,340.30 476.92,339.70 470.63,339.70 467.49,341.85" fill="#365b9d" stroke="#365b9d" stroke-width="0.3" stroke-linejoin="round"/>
<polygon points="490.79,342.45 497.08,342.45 500.22,340.30 500.22,339.70 493.93,339.70 490.79,341.85" fill="#365b9d" stroke="#365b9d" stroke-width="0.3" stroke-linejoin="round"/>
<polygon points="514.08,342.45 520.37,342.45 523.51,340.30 523.51,339.70 517.22,339.70 514.08,341.85" fill="#365b9d" stroke="#365b9d" stroke-width="0.3" stroke-linejoin="round"/>
<polygon points="537.38,342.45 543.67,342.45 546.81,340.30 546.81,339.70 540.52,339.70 537.38,341.85" fill="#365b9d" stroke="#365b9d" stroke-width="0.3" stroke-linejoin="round"/>
<polygon points="560.67,342.45 566.96,342.45 570.10,340.30 570.10,339.70 563.81,339.70 560.67,341.85" fill="#365b9d" stroke="#365b9d" stroke-width="0.3" stroke-linejoin="round"/>
<polygon points="583.97,342.45 590.26,342.45 593.40,340.30 593.40,339.70 587.11,339.70 583.97,341.85" fill="#365b9d" stroke="#365b9d" stroke-width="0.3" stroke-linejoin="round"/>
<polygon points="607.26,342.45 613.55,342.45 616.69,340.30 616.69,320.49 610.40,320.49 607.26,322.64" fill="#2e4e85"/>
<polygon points="607.26,322.64 613.55,322.64 616.69,320.49 610.40,320.49" fill="#3960a5"/>
<polygon points="607.26,342.45 613.55,342.45 613.55,322.64 607.26,322.64" fill="#4472C4"/>
<polygon points="455.85,350.42 462.14,350.42 465.28,348.27 465.28,341.69 458.99,341.69 455.85,343.84" fill="#ad8300"/>
<polygon points="455.85,343.84 462.14,343.84 465.28,341.69 458.99,341.69" fill="#d6a100"/>
<polygon points="455.85,350.42 462.14,350.42 462.14,343.84 455.85,343.84" fill="#FFC000"/>
<polygon points="479.15,350.42 485.44,350.42 488.58,348.27 488.58,346.73 482.29,346.73 479.15,348.88" fill="#ad8300"/>
<polygon points="479.15,348.88 485.44,348.88 488.58,346.73 482.29,346.73" fill="#d6a100"/>
<polygon points="479.15,350.42 485.44,350.42 485.44,348.88 479.15,348.88" fill="#FFC000"/>
<polygon points="549.03,350.42 555.32,350.42 558.46,348.27 558.46,327.94 552.17,327.94 549.03,330.09" fill="#ad8300"/>
<polygon points="549.03,330.09 555.32,330.09 558.46,327.94 552.17,327.94" fill="#d6a100"/>
<polygon points="549.03,350.42 555.32,350.42 555.32,330.09 549.03,330.09" fill="#FFC000"/>
<polygon points="618.92,350.42 625.21,350.42 628.35,348.27 628.35,344.68 622.06,344.68 618.92,346.83" fill="#ad8300"/>
<polygon points="618.92,346.83 625.21,346.83 628.35,344.68 622.06,344.68" fill="#d6a100"/>
<polygon points="618.92,350.42 625.21,350.42 625.21,346.83 618.92,346.83" fill="#FFC000"/>
<polygon points="514.10,358.38 520.39,358.38 523.53,356.23 523.53,355.63 517.24,355.63 514.10,357.78" fill="#be6427" stroke="#be6427" stroke-width="0.3" stroke-linejoin="round"/>
<polygon points="583.98,358.38 590.27,358.38 593.41,356.23 593.41,355.63 587.12,355.63 583.98,357.78" fill="#be6427" stroke="#be6427" stroke-width="0.3" stroke-linejoin="round"/>
<polygon points="455.87,366.35 462.16,366.35 465.30,364.20 465.30,363.60 459.01,363.60 455.87,365.75" fill="#1e3660" stroke="#1e3660" stroke-width="0.3" stroke-linejoin="round"/>
<polygon points="479.16,366.35 485.45,366.35 488.59,364.20 488.59,357.11 482.30,357.11 479.16,359.26" fill="#1a2e52"/>
<polygon points="479.16,359.26 485.45,359.26 488.59,357.11 482.30,357.11" fill="#203965"/>
<polygon points="479.16,366.35 485.45,366.35 485.45,359.26 479.16,359.26" fill="#264478"/>
<polygon points="525.75,366.35 532.04,366.35 535.18,364.20 535.18,269.83 528.89,269.83 525.75,271.98" fill="#1a2e52"/>
<polygon points="525.75,271.98 532.04,271.98 535.18,269.83 528.89,269.83" fill="#203965"/>
<polygon points="525.75,366.35 532.04,366.35 532.04,271.98 525.75,271.98" fill="#264478"/>
<polygon points="572.34,366.35 578.63,366.35 581.77,364.20 581.77,361.64 575.48,361.64 572.34,363.79" fill="#1a2e52"/>
<polygon points="572.34,363.79 578.63,363.79 581.77,361.64 575.48,361.64" fill="#203965"/>
<polygon points="572.34,366.35 578.63,366.35 578.63,363.79 572.34,363.79" fill="#264478"/>
<polygon points="444.23,374.32 450.52,374.32 453.66,372.17 453.66,371.57 447.37,371.57 444.23,373.72" fill="#5a8a39" stroke="#5a8a39" stroke-width="0.3" stroke-linejoin="round"/>
<polygon points="467.52,374.32 473.81,374.32 476.95,372.17 476.95,371.57 470.66,371.57 467.52,373.72" fill="#5a8a39" stroke="#5a8a39" stroke-width="0.3" stroke-linejoin="round"/>
<polygon points="514.11,374.32 520.40,374.32 523.54,372.17 523.54,368.75 517.25,368.75 514.11,370.90" fill="#4c7630"/>
<polygon points="514.11,370.90 520.40,370.90 523.54,368.75 517.25,368.75" fill="#5e913c"/>
<polygon points="514.11,374.32 520.40,374.32 520.40,370.90 514.11,370.90" fill="#70AD47"/>
<polygon points="560.70,374.32 566.99,374.32 570.13,372.17 570.13,371.57 563.84,371.57 560.70,373.72" fill="#5a8a39" stroke="#5a8a39" stroke-width="0.3" stroke-linejoin="round"/>
<polygon points="432.59,382.29 438.88,382.29 442.02,380.13 442.02,379.53 435.73,379.53 432.59,381.69" fill="#497caa" stroke="#497caa" stroke-width="0.3" stroke-linejoin="round"/>
<polygon points="455.88,382.29 462.17,382.29 465.31,380.13 465.31,376.55 459.02,376.55 455.88,378.70" fill="#3e6991"/>
<polygon points="455.88,378.70 462.17,378.70 465.31,376.55 459.02,376.55" fill="#4c82b3"/>
<polygon points="455.88,382.29 462.17,382.29 462.17,378.70 455.88,378.70" fill="#5B9BD5"/>
<polygon points="502.47,382.29 508.76,382.29 511.90,380.13 511.90,371.68 505.61,371.68 502.47,373.83" fill="#3e6991"/>
<polygon points="502.47,373.83 508.76,373.83 511.90,371.68 505.61,371.68" fill="#4c82b3"/>
<polygon points="502.47,382.29 508.76,382.29 508.76,373.83 502.47,373.83" fill="#5B9BD5"/>
<polygon points="397.65,390.25 403.94,390.25 407.08,388.10 407.08,382.12 400.79,382.12 397.65,384.27" fill="#707070"/>
<polygon points="397.65,384.27 403.94,384.27 407.08,382.12 400.79,382.12" fill="#8b8b8b"/>
<polygon points="397.65,390.25 403.94,390.25 403.94,384.27 397.65,384.27" fill="#A5A5A5"/>
<polygon points="420.95,390.25 427.24,390.25 430.38,388.10 430.38,384.68 424.09,384.68 420.95,386.84" fill="#707070"/>
<polygon points="420.95,386.84 427.24,386.84 430.38,384.68 424.09,384.68" fill="#8b8b8b"/>
<polygon points="420.95,390.25 427.24,390.25 427.24,386.84 420.95,386.84" fill="#A5A5A5"/>
<polygon points="490.83,390.25 497.12,390.25 500.26,388.10 500.26,387.50 493.97,387.50 490.83,389.65" fill="#848484" stroke="#848484" stroke-width="0.3" stroke-linejoin="round"/>
<polygon points="560.72,390.25 567.01,390.25 570.15,388.10 570.15,387.50 563.86,387.50 560.72,389.65" fill="#848484" stroke="#848484" stroke-width="0.3" stroke-linejoin="round"/>
<text x="585.76" y="392.46" font-size="7.1" text-anchor="start" fill="#262626" textLength="11.40" lengthAdjust="spacingAndGlyphs">CC2</text>
<text x="597.40" y="384.41" font-size="7.1" text-anchor="start" fill="#262626" textLength="17.30" lengthAdjust="spacingAndGlyphs">CC3-3</text>
<text x="609.04" y="376.37" font-size="7.1" text-anchor="start" fill="#262626" textLength="17.30" lengthAdjust="spacingAndGlyphs">CC4-2</text>
<text x="620.68" y="368.32" font-size="7.1" text-anchor="start" fill="#262626" textLength="17.30" lengthAdjust="spacingAndGlyphs">CC4-1</text>
<text x="632.32" y="360.27" font-size="7.1" text-anchor="start" fill="#262626" textLength="13.06" lengthAdjust="spacingAndGlyphs">SEM</text>
<text x="643.96" y="352.23" font-size="7.1" text-anchor="start" fill="#262626" textLength="30.73" lengthAdjust="spacingAndGlyphs">HY1 Room</text>
<text x="655.60" y="344.18" font-size="7.1" text-anchor="start" fill="#262626" textLength="30.73" lengthAdjust="spacingAndGlyphs">HY2 Room</text>
<text x="398.30" y="402.71" font-size="6.8" text-anchor="end" fill="#262626" textLength="43.58" lengthAdjust="spacingAndGlyphs" transform="rotate(-45 398.30 402.71)">FY2018 - 2nd H</text>
<text x="421.59" y="402.71" font-size="6.8" text-anchor="end" fill="#262626" textLength="41.28" lengthAdjust="spacingAndGlyphs" transform="rotate(-45 421.59 402.71)">FY2019 - 1st H</text>
<text x="444.89" y="402.71" font-size="6.8" text-anchor="end" fill="#262626" textLength="43.58" lengthAdjust="spacingAndGlyphs" transform="rotate(-45 444.89 402.71)">FY2019 - 2nd H</text>
<text x="468.18" y="402.71" font-size="6.8" text-anchor="end" fill="#262626" textLength="41.28" lengthAdjust="spacingAndGlyphs" transform="rotate(-45 468.18 402.71)">FY2020 - 1st H</text>
<text x="491.48" y="402.71" font-size="6.8" text-anchor="end" fill="#262626" textLength="43.58" lengthAdjust="spacingAndGlyphs" transform="rotate(-45 491.48 402.71)">FY2020 - 2nd H</text>
<text x="514.77" y="402.71" font-size="6.8" text-anchor="end" fill="#262626" textLength="41.28" lengthAdjust="spacingAndGlyphs" transform="rotate(-45 514.77 402.71)">FY2021 - 1st H</text>
<text x="538.07" y="402.71" font-size="6.8" text-anchor="end" fill="#262626" textLength="43.58" lengthAdjust="spacingAndGlyphs" transform="rotate(-45 538.07 402.71)">FY2021 - 2nd H</text>
<text x="561.36" y="402.71" font-size="6.8" text-anchor="end" fill="#262626" textLength="41.28" lengthAdjust="spacingAndGlyphs" transform="rotate(-45 561.36 402.71)">FY2022 - 1st H</text>
<text x="529.40" y="233.70" font-size="14.3" text-anchor="middle" fill="#000" textLength="12.44" lengthAdjust="spacingAndGlyphs">Al</text>
<text x="354.60" y="274.90" font-size="7.4" text-anchor="start" fill="#262626" textLength="2.99" lengthAdjust="spacingAndGlyphs" style="stroke-width:0.25px">E</text>
<text x="358.30" y="272.90" font-size="4.8" text-anchor="start" fill="#262626" textLength="1.99" lengthAdjust="spacingAndGlyphs" style="stroke-width:0.25px">9</text>
<text x="361.30" y="274.90" font-size="7.4" text-anchor="start" fill="#262626" textLength="32.63" lengthAdjust="spacingAndGlyphs" style="stroke-width:0.25px">atoms/cm</text>
<text x="394.30" y="272.90" font-size="4.8" text-anchor="start" fill="#262626" textLength="1.99" lengthAdjust="spacingAndGlyphs" style="stroke-width:0.25px">2</text>
<path d="M31.50 626.10L113.61 570.42L301.57 570.42 M31.50 611.79L113.61 556.06L301.57 556.06 M31.50 597.48L113.61 541.70L301.57 541.70 M31.50 583.17L113.61 527.34L301.57 527.34 M31.50 568.86L113.61 512.98L301.57 512.98 M31.50 554.55L113.61 498.62L301.57 498.62 M31.50 540.24L113.61 484.26L301.57 484.26 M31.50 525.93L113.61 469.90L301.57 469.90" stroke="#d9d9d9" stroke-width="0.75" fill="none"/>
<text x="23.10" y="628.40" font-size="7.2" text-anchor="end" fill="#262626" textLength="3.55" lengthAdjust="spacingAndGlyphs">0</text>
<text x="23.10" y="614.09" font-size="7.2" text-anchor="end" fill="#262626" textLength="7.10" lengthAdjust="spacingAndGlyphs">10</text>
<text x="23.10" y="599.78" font-size="7.2" text-anchor="end" fill="#262626" textLength="7.10" lengthAdjust="spacingAndGlyphs">20</text>
<text x="23.10" y="585.47" font-size="7.2" text-anchor="end" fill="#262626" textLength="7.10" lengthAdjust="spacingAndGlyphs">30</text>
<text x="23.10" y="571.16" font-size="7.2" text-anchor="end" fill="#262626" textLength="7.10" lengthAdjust="spacingAndGlyphs">40</text>
<text x="23.10" y="556.85" font-size="7.2" text-anchor="end" fill="#262626" textLength="7.10" lengthAdjust="spacingAndGlyphs">50</text>
<text x="23.10" y="542.54" font-size="7.2" text-anchor="end" fill="#262626" textLength="7.10" lengthAdjust="spacingAndGlyphs">60</text>
<text x="23.10" y="528.23" font-size="7.2" text-anchor="end" fill="#262626" textLength="7.10" lengthAdjust="spacingAndGlyphs">70</text>
<path d="M31.50 626.10H219.46 M31.50 626.50v-2.6 M55.00 626.50v-2.6 M78.49 626.50v-2.6 M101.98 626.50v-2.6 M125.48 626.50v-2.6 M148.98 626.50v-2.6 M172.47 626.50v-2.6 M195.97 626.50v-2.6 M219.46 626.50v-2.6" stroke="#8faadc" stroke-width="0.9" fill="none"/>
<polygon points="114.62,575.47 121.20,575.47 124.37,573.33 124.37,567.17 117.79,567.17 114.62,569.32" fill="#2e4e85"/>
<polygon points="114.62,569.32 121.20,569.32 124.37,567.17 117.79,567.17" fill="#3960a5"/>
<polygon points="114.62,575.47 121.20,575.47 121.20,569.32 114.62,569.32" fill="#4472C4"/>
<polygon points="138.11,575.47 144.69,575.47 147.86,573.33 147.86,572.73 141.28,572.73 138.11,574.87" fill="#365b9d" stroke="#365b9d" stroke-width="0.3" stroke-linejoin="round"/>
<polygon points="161.61,575.47 168.19,575.47 171.36,573.33 171.36,542.84 164.78,542.84 161.61,544.99" fill="#2e4e85"/>
<polygon points="161.61,544.99 168.19,544.99 171.36,542.84 164.78,542.84" fill="#3960a5"/>
<polygon points="161.61,575.47 168.19,575.47 168.19,544.99 161.61,544.99" fill="#4472C4"/>
<polygon points="185.10,575.47 191.68,575.47 194.85,573.33 194.85,572.73 188.27,572.73 185.10,574.87" fill="#365b9d" stroke="#365b9d" stroke-width="0.3" stroke-linejoin="round"/>
<polygon points="208.60,575.47 215.18,575.47 218.35,573.33 218.35,572.73 211.77,572.73 208.60,574.87" fill="#365b9d" stroke="#365b9d" stroke-width="0.3" stroke-linejoin="round"/>
<polygon points="255.59,575.47 262.17,575.47 265.34,573.33 265.34,564.45 258.76,564.45 255.59,566.60" fill="#2e4e85"/>
<polygon points="255.59,566.60 262.17,566.60 265.34,564.45 258.76,564.45" fill="#3960a5"/>
<polygon points="255.59,575.47 262.17,575.47 262.17,566.60 255.59,566.60" fill="#4472C4"/>
<polygon points="102.89,583.43 109.47,583.43 112.64,581.28 112.64,522.04 106.06,522.04 102.89,524.18" fill="#ad8300"/>
<polygon points="102.89,524.18 109.47,524.18 112.64,522.04 106.06,522.04" fill="#d6a100"/>
<polygon points="102.89,583.43 109.47,583.43 109.47,524.18 102.89,524.18" fill="#FFC000"/>
<polygon points="126.38,583.43 132.96,583.43 136.13,581.28 136.13,542.64 129.55,542.64 126.38,544.79" fill="#ad8300"/>
<polygon points="126.38,544.79 132.96,544.79 136.13,542.64 129.55,542.64" fill="#d6a100"/>
<polygon points="126.38,583.43 132.96,583.43 132.96,544.79 126.38,544.79" fill="#FFC000"/>
<polygon points="196.87,583.43 203.45,583.43 206.62,581.28 206.62,559.10 200.04,559.10 196.87,561.25" fill="#ad8300"/>
<polygon points="196.87,561.25 203.45,561.25 206.62,559.10 200.04,559.10" fill="#d6a100"/>
<polygon points="196.87,583.43 203.45,583.43 203.45,561.25 196.87,561.25" fill="#FFC000"/>
<polygon points="267.35,583.43 273.93,583.43 277.10,581.28 277.10,577.13 270.52,577.13 267.35,579.28" fill="#ad8300"/>
<polygon points="267.35,579.28 273.93,579.28 277.10,577.13 270.52,577.13" fill="#d6a100"/>
<polygon points="267.35,583.43 273.93,583.43 273.93,579.28 267.35,579.28" fill="#FFC000"/>
<polygon points="161.64,591.38 168.22,591.38 171.39,589.23 171.39,587.80 164.81,587.80 161.64,589.95" fill="#a15521"/>
<polygon points="161.64,589.95 168.22,589.95 171.39,587.80 164.81,587.80" fill="#c76929"/>
<polygon points="161.64,591.38 168.22,591.38 168.22,589.95 161.64,589.95" fill="#ED7D31"/>
<polygon points="232.13,591.38 238.71,591.38 241.88,589.23 241.88,553.74 235.30,553.74 232.13,555.89" fill="#a15521"/>
<polygon points="232.13,555.89 238.71,555.89 241.88,553.74 235.30,553.74" fill="#c76929"/>
<polygon points="232.13,591.38 238.71,591.38 238.71,555.89 232.13,555.89" fill="#ED7D31"/>
<polygon points="102.92,599.33 109.50,599.33 112.67,597.19 112.67,588.89 106.09,588.89 102.92,591.03" fill="#1a2e52"/>
<polygon points="102.92,591.03 109.50,591.03 112.67,588.89 106.09,588.89" fill="#203965"/>
<polygon points="102.92,599.33 109.50,599.33 109.50,591.03 102.92,591.03" fill="#264478"/>
<polygon points="126.42,599.33 133.00,599.33 136.17,597.19 136.17,592.75 129.59,592.75 126.42,594.90" fill="#1a2e52"/>
<polygon points="126.42,594.90 133.00,594.90 136.17,592.75 129.59,592.75" fill="#203965"/>
<polygon points="126.42,599.33 133.00,599.33 133.00,594.90 126.42,594.90" fill="#264478"/>
<polygon points="173.41,599.33 179.99,599.33 183.16,597.19 183.16,504.89 176.58,504.89 173.41,507.04" fill="#1a2e52"/>
<polygon points="173.41,507.04 179.99,507.04 183.16,504.89 176.58,504.89" fill="#203965"/>
<polygon points="173.41,599.33 179.99,599.33 179.99,507.04 173.41,507.04" fill="#264478"/>
<polygon points="220.40,599.33 226.98,599.33 230.15,597.19 230.15,596.59 223.57,596.59 220.40,598.73" fill="#1e3660" stroke="#1e3660" stroke-width="0.3" stroke-linejoin="round"/>
<polygon points="91.19,607.29 97.77,607.29 100.94,605.14 100.94,597.27 94.36,597.27 91.19,599.42" fill="#4c7630"/>
<polygon points="91.19,599.42 97.77,599.42 100.94,597.27 94.36,597.27" fill="#5e913c"/>
<polygon points="91.19,607.29 97.77,607.29 97.77,599.42 91.19,599.42" fill="#70AD47"/>
<polygon points="114.69,607.29 121.27,607.29 124.44,605.14 124.44,597.99 117.86,597.99 114.69,600.13" fill="#4c7630"/>
<polygon points="114.69,600.13 121.27,600.13 124.44,597.99 117.86,597.99" fill="#5e913c"/>
<polygon points="114.69,607.29 121.27,607.29 121.27,600.13 114.69,600.13" fill="#70AD47"/>
<polygon points="161.68,607.29 168.26,607.29 171.43,605.14 171.43,598.70 164.85,598.70 161.68,600.85" fill="#4c7630"/>
<polygon points="161.68,600.85 168.26,600.85 171.43,598.70 164.85,598.70" fill="#5e913c"/>
<polygon points="161.68,607.29 168.26,607.29 168.26,600.85 161.68,600.85" fill="#70AD47"/>
<polygon points="208.67,607.29 215.25,607.29 218.42,605.14 218.42,604.54 211.84,604.54 208.67,606.69" fill="#5a8a39" stroke="#5a8a39" stroke-width="0.3" stroke-linejoin="round"/>
<polygon points="79.46,615.24 86.04,615.24 89.21,613.10 89.21,609.23 82.63,609.23 79.46,611.38" fill="#3e6991"/>
<polygon points="79.46,611.38 86.04,611.38 89.21,609.23 82.63,609.23" fill="#4c82b3"/>
<polygon points="79.46,615.24 86.04,615.24 86.04,611.38 79.46,611.38" fill="#5B9BD5"/>
<polygon points="102.96,615.24 109.54,615.24 112.71,613.10 112.71,595.64 106.13,595.64 102.96,597.78" fill="#3e6991"/>
<polygon points="102.96,597.78 109.54,597.78 112.71,595.64 106.13,595.64" fill="#4c82b3"/>
<polygon points="102.96,615.24 109.54,615.24 109.54,597.78 102.96,597.78" fill="#5B9BD5"/>
<polygon points="149.95,615.24 156.53,615.24 159.70,613.10 159.70,608.37 153.12,608.37 149.95,610.52" fill="#3e6991"/>
<polygon points="149.95,610.52 156.53,610.52 159.70,608.37 153.12,608.37" fill="#4c82b3"/>
<polygon points="149.95,615.24 156.53,615.24 156.53,610.52 149.95,610.52" fill="#5B9BD5"/>
<polygon points="44.24,623.20 50.82,623.20 53.99,621.05 53.99,620.45 47.41,620.45 44.24,622.60" fill="#848484" stroke="#848484" stroke-width="0.3" stroke-linejoin="round"/>
<polygon points="67.73,623.20 74.31,623.20 77.48,621.05 77.48,532.33 70.90,532.33 67.73,534.47" fill="#707070"/>
<polygon points="67.73,534.47 74.31,534.47 77.48,532.33 70.90,532.33" fill="#8b8b8b"/>
<polygon points="67.73,623.20 74.31,623.20 74.31,534.47 67.73,534.47" fill="#A5A5A5"/>
<polygon points="138.22,623.20 144.80,623.20 147.97,621.05 147.97,620.45 141.39,620.45 138.22,622.60" fill="#848484" stroke="#848484" stroke-width="0.3" stroke-linejoin="round"/>
<polygon points="208.70,623.20 215.28,623.20 218.45,621.05 218.45,620.45 211.87,620.45 208.70,622.60" fill="#848484" stroke="#848484" stroke-width="0.3" stroke-linejoin="round"/>
<text x="233.96" y="625.40" font-size="7.1" text-anchor="start" fill="#262626" textLength="11.40" lengthAdjust="spacingAndGlyphs">CC2</text>
<text x="245.69" y="617.37" font-size="7.1" text-anchor="start" fill="#262626" textLength="17.30" lengthAdjust="spacingAndGlyphs">CC3-3</text>
<text x="257.42" y="609.33" font-size="7.1" text-anchor="start" fill="#262626" textLength="17.30" lengthAdjust="spacingAndGlyphs">CC4-2</text>
<text x="269.15" y="601.30" font-size="7.1" text-anchor="start" fill="#262626" textLength="17.30" lengthAdjust="spacingAndGlyphs">CC4-1</text>
<text x="280.88" y="593.27" font-size="7.1" text-anchor="start" fill="#262626" textLength="13.06" lengthAdjust="spacingAndGlyphs">SEM</text>
<text x="292.61" y="585.23" font-size="7.1" text-anchor="start" fill="#262626" textLength="30.73" lengthAdjust="spacingAndGlyphs">HY1 Room</text>
<text x="304.34" y="577.20" font-size="7.1" text-anchor="start" fill="#262626" textLength="30.73" lengthAdjust="spacingAndGlyphs">HY2 Room</text>
<text x="45.00" y="635.65" font-size="6.8" text-anchor="end" fill="#262626" textLength="43.58" lengthAdjust="spacingAndGlyphs" transform="rotate(-45 45.00 635.65)">FY2018 - 2nd H</text>
<text x="68.49" y="635.65" font-size="6.8" text-anchor="end" fill="#262626" textLength="41.28" lengthAdjust="spacingAndGlyphs" transform="rotate(-45 68.49 635.65)">FY2019 - 1st H</text>
<text x="91.99" y="635.65" font-size="6.8" text-anchor="end" fill="#262626" textLength="43.58" lengthAdjust="spacingAndGlyphs" transform="rotate(-45 91.99 635.65)">FY2019 - 2nd H</text>
<text x="115.48" y="635.65" font-size="6.8" text-anchor="end" fill="#262626" textLength="41.28" lengthAdjust="spacingAndGlyphs" transform="rotate(-45 115.48 635.65)">FY2020 - 1st H</text>
<text x="138.98" y="635.65" font-size="6.8" text-anchor="end" fill="#262626" textLength="43.58" lengthAdjust="spacingAndGlyphs" transform="rotate(-45 138.98 635.65)">FY2020 - 2nd H</text>
<text x="162.47" y="635.65" font-size="6.8" text-anchor="end" fill="#262626" textLength="41.28" lengthAdjust="spacingAndGlyphs" transform="rotate(-45 162.47 635.65)">FY2021 - 1st H</text>
<text x="185.97" y="635.65" font-size="6.8" text-anchor="end" fill="#262626" textLength="43.58" lengthAdjust="spacingAndGlyphs" transform="rotate(-45 185.97 635.65)">FY2021 - 2nd H</text>
<text x="209.46" y="635.65" font-size="6.8" text-anchor="end" fill="#262626" textLength="41.28" lengthAdjust="spacingAndGlyphs" transform="rotate(-45 209.46 635.65)">FY2022 - 1st H</text>
<text x="179.10" y="464.00" font-size="14.3" text-anchor="middle" fill="#000" textLength="17.32" lengthAdjust="spacingAndGlyphs">Na</text>
<text x="2.10" y="513.70" font-size="7.4" text-anchor="start" fill="#262626" textLength="2.99" lengthAdjust="spacingAndGlyphs" style="stroke-width:0.25px">E</text>
<text x="5.80" y="511.70" font-size="4.8" text-anchor="start" fill="#262626" textLength="1.99" lengthAdjust="spacingAndGlyphs" style="stroke-width:0.25px">9</text>
<text x="8.80" y="513.70" font-size="7.4" text-anchor="start" fill="#262626" textLength="32.63" lengthAdjust="spacingAndGlyphs" style="stroke-width:0.25px">atoms/cm</text>
<text x="41.80" y="511.70" font-size="4.8" text-anchor="start" fill="#262626" textLength="1.99" lengthAdjust="spacingAndGlyphs" style="stroke-width:0.25px">2</text>
<path d="M381.30 612.70L462.71 557.40L650.47 557.40 M381.30 595.84L462.71 540.54L650.47 540.54 M381.30 578.97L462.71 523.67L650.47 523.67 M381.30 562.11L462.71 506.81L650.47 506.81 M381.30 545.24L462.71 489.94L650.47 489.94 M381.30 528.38L462.71 473.08L650.47 473.08 M381.30 511.51L462.71 456.21L650.47 456.21" stroke="#d9d9d9" stroke-width="0.75" fill="none"/>
<text x="373.10" y="615.00" font-size="7.2" text-anchor="end" fill="#262626" textLength="3.55" lengthAdjust="spacingAndGlyphs">0</text>
<text x="373.10" y="598.13" font-size="7.2" text-anchor="end" fill="#262626" textLength="3.55" lengthAdjust="spacingAndGlyphs">5</text>
<text x="373.10" y="581.27" font-size="7.2" text-anchor="end" fill="#262626" textLength="7.10" lengthAdjust="spacingAndGlyphs">10</text>
<text x="373.10" y="564.40" font-size="7.2" text-anchor="end" fill="#262626" textLength="7.10" lengthAdjust="spacingAndGlyphs">15</text>
<text x="373.10" y="547.54" font-size="7.2" text-anchor="end" fill="#262626" textLength="7.10" lengthAdjust="spacingAndGlyphs">20</text>
<text x="373.10" y="530.67" font-size="7.2" text-anchor="end" fill="#262626" textLength="7.10" lengthAdjust="spacingAndGlyphs">25</text>
<text x="373.10" y="513.81" font-size="7.2" text-anchor="end" fill="#262626" textLength="7.10" lengthAdjust="spacingAndGlyphs">30</text>
<path d="M381.30 612.70H569.06 M381.30 613.10v-2.6 M404.77 613.10v-2.6 M428.24 613.10v-2.6 M451.71 613.10v-2.6 M475.18 613.10v-2.6 M498.65 613.10v-2.6 M522.12 613.10v-2.6 M545.59 613.10v-2.6 M569.06 613.10v-2.6" stroke="#8faadc" stroke-width="0.9" fill="none"/>
<polygon points="463.89,562.42 470.23,562.42 473.37,560.28 473.37,559.68 467.03,559.68 463.89,561.82" fill="#365b9d" stroke="#365b9d" stroke-width="0.3" stroke-linejoin="round"/>
<polygon points="487.36,562.42 493.70,562.42 496.84,560.28 496.84,559.68 490.50,559.68 487.36,561.82" fill="#365b9d" stroke="#365b9d" stroke-width="0.3" stroke-linejoin="round"/>
<polygon points="510.83,562.42 517.17,562.42 520.31,560.28 520.31,559.68 513.97,559.68 510.83,561.82" fill="#365b9d" stroke="#365b9d" stroke-width="0.3" stroke-linejoin="round"/>
<polygon points="534.30,562.42 540.64,562.42 543.78,560.28 543.78,559.68 537.44,559.68 534.30,561.82" fill="#365b9d" stroke="#365b9d" stroke-width="0.3" stroke-linejoin="round"/>
<polygon points="581.24,562.42 587.58,562.42 590.72,560.28 590.72,556.24 584.38,556.24 581.24,558.37" fill="#2e4e85"/>
<polygon points="581.24,558.37 587.58,558.37 590.72,556.24 584.38,556.24" fill="#3960a5"/>
<polygon points="581.24,562.42 587.58,562.42 587.58,558.37 581.24,558.37" fill="#4472C4"/>
<polygon points="604.71,562.42 611.05,562.42 614.19,560.28 614.19,559.68 607.85,559.68 604.71,561.82" fill="#365b9d" stroke="#365b9d" stroke-width="0.3" stroke-linejoin="round"/>
<polygon points="452.26,570.32 458.60,570.32 461.74,568.18 461.74,555.23 455.40,555.23 452.26,557.36" fill="#ad8300"/>
<polygon points="452.26,557.36 458.60,557.36 461.74,555.23 455.40,555.23" fill="#d6a100"/>
<polygon points="452.26,570.32 458.60,570.32 458.60,557.36 452.26,557.36" fill="#FFC000"/>
<polygon points="475.73,570.32 482.07,570.32 485.21,568.18 485.21,554.69 478.87,554.69 475.73,556.82" fill="#ad8300"/>
<polygon points="475.73,556.82 482.07,556.82 485.21,554.69 478.87,554.69" fill="#d6a100"/>
<polygon points="475.73,570.32 482.07,570.32 482.07,556.82 475.73,556.82" fill="#FFC000"/>
<polygon points="546.14,570.32 552.48,570.32 555.62,568.18 555.62,474.41 549.28,474.41 546.14,476.55" fill="#ad8300"/>
<polygon points="546.14,476.55 552.48,476.55 555.62,474.41 549.28,474.41" fill="#d6a100"/>
<polygon points="546.14,570.32 552.48,570.32 552.48,476.55 546.14,476.55" fill="#FFC000"/>
<polygon points="616.55,570.32 622.89,570.32 626.03,568.18 626.03,567.58 619.69,567.58 616.55,569.72" fill="#cc9a00" stroke="#cc9a00" stroke-width="0.3" stroke-linejoin="round"/>
<polygon points="511.04,578.22 517.38,578.22 520.52,576.08 520.52,575.48 514.18,575.48 511.04,577.62" fill="#be6427" stroke="#be6427" stroke-width="0.3" stroke-linejoin="round"/>
<polygon points="581.45,578.22 587.79,578.22 590.93,576.08 590.93,575.07 584.59,575.07 581.45,577.20" fill="#a15521"/>
<polygon points="581.45,577.20 587.79,577.20 590.93,575.07 584.59,575.07" fill="#c76929"/>
<polygon points="581.45,578.22 587.79,578.22 587.79,577.20 581.45,577.20" fill="#ED7D31"/>
<polygon points="452.47,586.12 458.81,586.12 461.95,583.98 461.95,583.38 455.61,583.38 452.47,585.52" fill="#1e3660" stroke="#1e3660" stroke-width="0.3" stroke-linejoin="round"/>
<polygon points="475.94,586.12 482.28,586.12 485.42,583.98 485.42,583.38 479.08,583.38 475.94,585.52" fill="#1e3660" stroke="#1e3660" stroke-width="0.3" stroke-linejoin="round"/>
<polygon points="522.88,586.12 529.22,586.12 532.36,583.98 532.36,571.50 526.02,571.50 522.88,573.64" fill="#1a2e52"/>
<polygon points="522.88,573.64 529.22,573.64 532.36,571.50 526.02,571.50" fill="#203965"/>
<polygon points="522.88,586.12 529.22,586.12 529.22,573.64 522.88,573.64" fill="#264478"/>
<polygon points="569.82,586.12 576.16,586.12 579.30,583.98 579.30,575.21 572.96,575.21 569.82,577.35" fill="#1a2e52"/>
<polygon points="569.82,577.35 576.16,577.35 579.30,575.21 572.96,575.21" fill="#203965"/>
<polygon points="569.82,586.12 576.16,586.12 576.16,577.35 569.82,577.35" fill="#264478"/>
<polygon points="440.84,594.02 447.18,594.02 450.32,591.88 450.32,590.87 443.98,590.87 440.84,593.00" fill="#4c7630"/>
<polygon points="440.84,593.00 447.18,593.00 450.32,590.87 443.98,590.87" fill="#5e913c"/>
<polygon points="440.84,594.02 447.18,594.02 447.18,593.00 440.84,593.00" fill="#70AD47"/>
<polygon points="464.31,594.02 470.65,594.02 473.79,591.88 473.79,591.28 467.45,591.28 464.31,593.42" fill="#5a8a39" stroke="#5a8a39" stroke-width="0.3" stroke-linejoin="round"/>
<polygon points="511.25,594.02 517.59,594.02 520.73,591.88 520.73,588.27 514.39,588.27 511.25,590.41" fill="#4c7630"/>
<polygon points="511.25,590.41 517.59,590.41 520.73,588.27 514.39,588.27" fill="#5e913c"/>
<polygon points="511.25,594.02 517.59,594.02 517.59,590.41 511.25,590.41" fill="#70AD47"/>
<polygon points="558.19,594.02 564.53,594.02 567.67,591.88 567.67,545.00 561.33,545.00 558.19,547.13" fill="#4c7630"/>
<polygon points="558.19,547.13 564.53,547.13 567.67,545.00 561.33,545.00" fill="#5e913c"/>
<polygon points="558.19,594.02 564.53,594.02 564.53,547.13 558.19,547.13" fill="#70AD47"/>
<polygon points="429.21,601.92 435.55,601.92 438.69,599.78 438.69,597.66 432.35,597.66 429.21,599.79" fill="#3e6991"/>
<polygon points="429.21,599.79 435.55,599.79 438.69,597.66 432.35,597.66" fill="#4c82b3"/>
<polygon points="429.21,601.92 435.55,601.92 435.55,599.79 429.21,599.79" fill="#5B9BD5"/>
<polygon points="452.68,601.92 459.02,601.92 462.16,599.78 462.16,591.69 455.82,591.69 452.68,593.82" fill="#3e6991"/>
<polygon points="452.68,593.82 459.02,593.82 462.16,591.69 455.82,591.69" fill="#4c82b3"/>
<polygon points="452.68,601.92 459.02,601.92 459.02,593.82 452.68,593.82" fill="#5B9BD5"/>
<polygon points="499.62,601.92 505.96,601.92 509.10,599.78 509.10,574.15 502.76,574.15 499.62,576.28" fill="#3e6991"/>
<polygon points="499.62,576.28 505.96,576.28 509.10,574.15 502.76,574.15" fill="#4c82b3"/>
<polygon points="499.62,601.92 505.96,601.92 505.96,576.28 499.62,576.28" fill="#5B9BD5"/>
<polygon points="394.11,609.82 400.45,609.82 403.59,607.68 403.59,604.88 397.25,604.88 394.11,607.02" fill="#707070"/>
<polygon points="394.11,607.02 400.45,607.02 403.59,604.88 397.25,604.88" fill="#8b8b8b"/>
<polygon points="394.11,609.82 400.45,609.82 400.45,607.02 394.11,607.02" fill="#A5A5A5"/>
<polygon points="417.58,609.82 423.92,609.82 427.06,607.68 427.06,579.01 420.72,579.01 417.58,581.15" fill="#707070"/>
<polygon points="417.58,581.15 423.92,581.15 427.06,579.01 420.72,579.01" fill="#8b8b8b"/>
<polygon points="417.58,609.82 423.92,609.82 423.92,581.15 417.58,581.15" fill="#A5A5A5"/>
<polygon points="487.99,609.82 494.33,609.82 497.47,607.68 497.47,607.08 491.13,607.08 487.99,609.22" fill="#848484" stroke="#848484" stroke-width="0.3" stroke-linejoin="round"/>
<polygon points="558.40,609.82 564.74,609.82 567.88,607.68 567.88,607.08 561.54,607.08 558.40,609.22" fill="#848484" stroke="#848484" stroke-width="0.3" stroke-linejoin="round"/>
<text x="583.56" y="612.00" font-size="7.1" text-anchor="start" fill="#262626" textLength="11.40" lengthAdjust="spacingAndGlyphs">CC2</text>
<text x="595.19" y="604.02" font-size="7.1" text-anchor="start" fill="#262626" textLength="17.30" lengthAdjust="spacingAndGlyphs">CC3-3</text>
<text x="606.82" y="596.04" font-size="7.1" text-anchor="start" fill="#262626" textLength="17.30" lengthAdjust="spacingAndGlyphs">CC4-2</text>
<text x="618.45" y="588.06" font-size="7.1" text-anchor="start" fill="#262626" textLength="17.30" lengthAdjust="spacingAndGlyphs">CC4-1</text>
<text x="630.08" y="580.08" font-size="7.1" text-anchor="start" fill="#262626" textLength="13.06" lengthAdjust="spacingAndGlyphs">SEM</text>
<text x="641.71" y="572.11" font-size="7.1" text-anchor="start" fill="#262626" textLength="30.73" lengthAdjust="spacingAndGlyphs">HY1 Room</text>
<text x="653.34" y="564.13" font-size="7.1" text-anchor="start" fill="#262626" textLength="30.73" lengthAdjust="spacingAndGlyphs">HY2 Room</text>
<text x="394.79" y="622.25" font-size="6.8" text-anchor="end" fill="#262626" textLength="43.58" lengthAdjust="spacingAndGlyphs" transform="rotate(-45 394.79 622.25)">FY2018 - 2nd H</text>
<text x="418.25" y="622.25" font-size="6.8" text-anchor="end" fill="#262626" textLength="41.28" lengthAdjust="spacingAndGlyphs" transform="rotate(-45 418.25 622.25)">FY2019 - 1st H</text>
<text x="441.73" y="622.25" font-size="6.8" text-anchor="end" fill="#262626" textLength="43.58" lengthAdjust="spacingAndGlyphs" transform="rotate(-45 441.73 622.25)">FY2019 - 2nd H</text>
<text x="465.19" y="622.25" font-size="6.8" text-anchor="end" fill="#262626" textLength="41.28" lengthAdjust="spacingAndGlyphs" transform="rotate(-45 465.19 622.25)">FY2020 - 1st H</text>
<text x="488.67" y="622.25" font-size="6.8" text-anchor="end" fill="#262626" textLength="43.58" lengthAdjust="spacingAndGlyphs" transform="rotate(-45 488.67 622.25)">FY2020 - 2nd H</text>
<text x="512.13" y="622.25" font-size="6.8" text-anchor="end" fill="#262626" textLength="41.28" lengthAdjust="spacingAndGlyphs" transform="rotate(-45 512.13 622.25)">FY2021 - 1st H</text>
<text x="535.61" y="622.25" font-size="6.8" text-anchor="end" fill="#262626" textLength="43.58" lengthAdjust="spacingAndGlyphs" transform="rotate(-45 535.61 622.25)">FY2021 - 2nd H</text>
<text x="559.08" y="622.25" font-size="6.8" text-anchor="end" fill="#262626" textLength="41.28" lengthAdjust="spacingAndGlyphs" transform="rotate(-45 559.08 622.25)">FY2022 - 1st H</text>
<text x="530.50" y="449.60" font-size="14.3" text-anchor="middle" fill="#000" textLength="20.42" lengthAdjust="spacingAndGlyphs">Mg</text>
<text x="351.10" y="498.40" font-size="7.4" text-anchor="start" fill="#262626" textLength="2.99" lengthAdjust="spacingAndGlyphs" style="stroke-width:0.25px">E</text>
<text x="354.80" y="496.40" font-size="4.8" text-anchor="start" fill="#262626" textLength="1.99" lengthAdjust="spacingAndGlyphs" style="stroke-width:0.25px">9</text>
<text x="357.80" y="498.40" font-size="7.4" text-anchor="start" fill="#262626" textLength="32.63" lengthAdjust="spacingAndGlyphs" style="stroke-width:0.25px">atoms/cm</text>
<text x="390.80" y="496.40" font-size="4.8" text-anchor="start" fill="#262626" textLength="1.99" lengthAdjust="spacingAndGlyphs" style="stroke-width:0.25px">2</text>
<path d="M28.90 845.30L112.20 789.09L301.60 789.09 M28.90 833.91L112.20 777.64L301.60 777.64 M28.90 822.52L112.20 766.20L301.60 766.20 M28.90 811.13L112.20 754.75L301.60 754.75 M28.90 799.74L112.20 743.31L301.60 743.31 M28.90 788.35L112.20 731.86L301.60 731.86 M28.90 776.96L112.20 720.42L301.60 720.42 M28.90 765.57L112.20 708.97L301.60 708.97 M28.90 754.18L112.20 697.53L301.60 697.53 M28.90 742.79L112.20 686.08L301.60 686.08" stroke="#d9d9d9" stroke-width="0.75" fill="none"/>
<text x="21.00" y="847.60" font-size="7.2" text-anchor="end" fill="#262626" textLength="3.55" lengthAdjust="spacingAndGlyphs">0</text>
<text x="21.00" y="836.21" font-size="7.2" text-anchor="end" fill="#262626" textLength="3.55" lengthAdjust="spacingAndGlyphs">5</text>
<text x="21.00" y="824.82" font-size="7.2" text-anchor="end" fill="#262626" textLength="7.10" lengthAdjust="spacingAndGlyphs">10</text>
<text x="21.00" y="813.43" font-size="7.2" text-anchor="end" fill="#262626" textLength="7.10" lengthAdjust="spacingAndGlyphs">15</text>
<text x="21.00" y="802.04" font-size="7.2" text-anchor="end" fill="#262626" textLength="7.10" lengthAdjust="spacingAndGlyphs">20</text>
<text x="21.00" y="790.65" font-size="7.2" text-anchor="end" fill="#262626" textLength="7.10" lengthAdjust="spacingAndGlyphs">25</text>
<text x="21.00" y="779.26" font-size="7.2" text-anchor="end" fill="#262626" textLength="7.10" lengthAdjust="spacingAndGlyphs">30</text>
<text x="21.00" y="767.87" font-size="7.2" text-anchor="end" fill="#262626" textLength="7.10" lengthAdjust="spacingAndGlyphs">35</text>
<text x="21.00" y="756.48" font-size="7.2" text-anchor="end" fill="#262626" textLength="7.10" lengthAdjust="spacingAndGlyphs">40</text>
<text x="21.00" y="745.09" font-size="7.2" text-anchor="end" fill="#262626" textLength="7.10" lengthAdjust="spacingAndGlyphs">45</text>
<path d="M28.90 845.30H218.30 M28.90 845.70v-2.6 M52.58 845.70v-2.6 M76.25 845.70v-2.6 M99.93 845.70v-2.6 M123.60 845.70v-2.6 M147.28 845.70v-2.6 M170.95 845.70v-2.6 M194.62 845.70v-2.6 M218.30 845.70v-2.6" stroke="#8faadc" stroke-width="0.9" fill="none"/>
<polygon points="113.17,794.19 119.80,794.19 123.01,792.02 123.01,786.33 116.38,786.33 113.17,788.49" fill="#2e4e85"/>
<polygon points="113.17,788.49 119.80,788.49 123.01,786.33 116.38,786.33" fill="#3960a5"/>
<polygon points="113.17,794.19 119.80,794.19 119.80,788.49 113.17,788.49" fill="#4472C4"/>
<polygon points="136.84,794.19 143.47,794.19 146.68,792.02 146.68,791.42 140.05,791.42 136.84,793.59" fill="#365b9d" stroke="#365b9d" stroke-width="0.3" stroke-linejoin="round"/>
<polygon points="184.19,794.19 190.82,794.19 194.03,792.02 194.03,791.42 187.40,791.42 184.19,793.59" fill="#365b9d" stroke="#365b9d" stroke-width="0.3" stroke-linejoin="round"/>
<polygon points="207.87,794.19 214.50,794.19 217.71,792.02 217.71,791.42 211.08,791.42 207.87,793.59" fill="#365b9d" stroke="#365b9d" stroke-width="0.3" stroke-linejoin="round"/>
<polygon points="255.22,794.19 261.85,794.19 265.06,792.02 265.06,783.14 258.43,783.14 255.22,785.30" fill="#2e4e85"/>
<polygon points="255.22,785.30 261.85,785.30 265.06,783.14 258.43,783.14" fill="#3960a5"/>
<polygon points="255.22,794.19 261.85,794.19 261.85,785.30 255.22,785.30" fill="#4472C4"/>
<polygon points="101.27,802.22 107.90,802.22 111.11,800.05 111.11,761.32 104.48,761.32 101.27,763.49" fill="#ad8300"/>
<polygon points="101.27,763.49 107.90,763.49 111.11,761.32 104.48,761.32" fill="#d6a100"/>
<polygon points="101.27,802.22 107.90,802.22 107.90,763.49 101.27,763.49" fill="#FFC000"/>
<polygon points="124.94,802.22 131.57,802.22 134.78,800.05 134.78,790.48 128.15,790.48 124.94,792.65" fill="#ad8300"/>
<polygon points="124.94,792.65 131.57,792.65 134.78,790.48 128.15,790.48" fill="#d6a100"/>
<polygon points="124.94,802.22 131.57,802.22 131.57,792.65 124.94,792.65" fill="#FFC000"/>
<polygon points="195.97,802.22 202.60,802.22 205.81,800.05 205.81,788.66 199.18,788.66 195.97,790.83" fill="#ad8300"/>
<polygon points="195.97,790.83 202.60,790.83 205.81,788.66 199.18,788.66" fill="#d6a100"/>
<polygon points="195.97,802.22 202.60,802.22 202.60,790.83 195.97,790.83" fill="#FFC000"/>
<polygon points="266.99,802.22 273.62,802.22 276.83,800.05 276.83,799.45 270.20,799.45 266.99,801.62" fill="#cc9a00" stroke="#cc9a00" stroke-width="0.3" stroke-linejoin="round"/>
<polygon points="231.42,810.25 238.05,810.25 241.26,808.08 241.26,785.98 234.63,785.98 231.42,788.15" fill="#a15521"/>
<polygon points="231.42,788.15 238.05,788.15 241.26,785.98 234.63,785.98" fill="#c76929"/>
<polygon points="231.42,810.25 238.05,810.25 238.05,788.15 231.42,788.15" fill="#ED7D31"/>
<polygon points="101.14,818.28 107.77,818.28 110.98,816.11 110.98,811.78 104.35,811.78 101.14,813.95" fill="#1a2e52"/>
<polygon points="101.14,813.95 107.77,813.95 110.98,811.78 104.35,811.78" fill="#203965"/>
<polygon points="101.14,818.28 107.77,818.28 107.77,813.95 101.14,813.95" fill="#264478"/>
<polygon points="124.82,818.28 131.45,818.28 134.66,816.11 134.66,814.29 128.03,814.29 124.82,816.46" fill="#1a2e52"/>
<polygon points="124.82,816.46 131.45,816.46 134.66,814.29 128.03,814.29" fill="#203965"/>
<polygon points="124.82,818.28 131.45,818.28 131.45,816.46 124.82,816.46" fill="#264478"/>
<polygon points="172.17,818.28 178.80,818.28 182.01,816.11 182.01,750.96 175.38,750.96 172.17,753.13" fill="#1a2e52"/>
<polygon points="172.17,753.13 178.80,753.13 182.01,750.96 175.38,750.96" fill="#203965"/>
<polygon points="172.17,818.28 178.80,818.28 178.80,753.13 172.17,753.13" fill="#264478"/>
<polygon points="219.52,818.28 226.15,818.28 229.36,816.11 229.36,815.51 222.73,815.51 219.52,817.68" fill="#1e3660" stroke="#1e3660" stroke-width="0.3" stroke-linejoin="round"/>
<polygon points="89.24,826.31 95.87,826.31 99.08,824.14 99.08,813.43 92.45,813.43 89.24,815.60" fill="#4c7630"/>
<polygon points="89.24,815.60 95.87,815.60 99.08,813.43 92.45,813.43" fill="#5e913c"/>
<polygon points="89.24,826.31 95.87,826.31 95.87,815.60 89.24,815.60" fill="#70AD47"/>
<polygon points="112.92,826.31 119.55,826.31 122.76,824.14 122.76,821.86 116.13,821.86 112.92,824.03" fill="#4c7630"/>
<polygon points="112.92,824.03 119.55,824.03 122.76,821.86 116.13,821.86" fill="#5e913c"/>
<polygon points="112.92,826.31 119.55,826.31 119.55,824.03 112.92,824.03" fill="#70AD47"/>
<polygon points="160.27,826.31 166.90,826.31 170.11,824.14 170.11,724.14 163.48,724.14 160.27,726.30" fill="#4c7630"/>
<polygon points="160.27,726.30 166.90,726.30 170.11,724.14 163.48,724.14" fill="#5e913c"/>
<polygon points="160.27,826.31 166.90,826.31 166.90,726.30 160.27,726.30" fill="#70AD47"/>
<polygon points="207.62,826.31 214.25,826.31 217.46,824.14 217.46,823.54 210.83,823.54 207.62,825.71" fill="#5a8a39" stroke="#5a8a39" stroke-width="0.3" stroke-linejoin="round"/>
<polygon points="77.34,834.34 83.97,834.34 87.18,832.17 87.18,828.75 80.55,828.75 77.34,830.92" fill="#3e6991"/>
<polygon points="77.34,830.92 83.97,830.92 87.18,828.75 80.55,828.75" fill="#4c82b3"/>
<polygon points="77.34,834.34 83.97,834.34 83.97,830.92 77.34,830.92" fill="#5B9BD5"/>
<polygon points="101.02,834.34 107.65,834.34 110.86,832.17 110.86,817.59 104.23,817.59 101.02,819.76" fill="#3e6991"/>
<polygon points="101.02,819.76 107.65,819.76 110.86,817.59 104.23,817.59" fill="#4c82b3"/>
<polygon points="101.02,834.34 107.65,834.34 107.65,819.76 101.02,819.76" fill="#5B9BD5"/>
<polygon points="148.37,834.34 155.00,834.34 158.21,832.17 158.21,827.84 151.58,827.84 148.37,830.01" fill="#3e6991"/>
<polygon points="148.37,830.01 155.00,830.01 158.21,827.84 151.58,827.84" fill="#4c82b3"/>
<polygon points="148.37,834.34 155.00,834.34 155.00,830.01 148.37,830.01" fill="#5B9BD5"/>
<polygon points="41.77,842.37 48.40,842.37 51.61,840.20 51.61,839.60 44.98,839.60 41.77,841.77" fill="#848484" stroke="#848484" stroke-width="0.3" stroke-linejoin="round"/>
<polygon points="65.44,842.37 72.07,842.37 75.28,840.20 75.28,834.28 68.65,834.28 65.44,836.45" fill="#707070"/>
<polygon points="65.44,836.45 72.07,836.45 75.28,834.28 68.65,834.28" fill="#8b8b8b"/>
<polygon points="65.44,842.37 72.07,842.37 72.07,836.45 65.44,836.45" fill="#A5A5A5"/>
<polygon points="136.47,842.37 143.10,842.37 146.31,840.20 146.31,839.60 139.68,839.60 136.47,841.77" fill="#848484" stroke="#848484" stroke-width="0.3" stroke-linejoin="round"/>
<polygon points="207.49,842.37 214.12,842.37 217.33,840.20 217.33,839.60 210.70,839.60 207.49,841.77" fill="#848484" stroke="#848484" stroke-width="0.3" stroke-linejoin="round"/>
<text x="232.80" y="844.10" font-size="7.1" text-anchor="start" fill="#262626" textLength="11.40" lengthAdjust="spacingAndGlyphs">CC2</text>
<text x="244.70" y="836.06" font-size="7.1" text-anchor="start" fill="#262626" textLength="17.30" lengthAdjust="spacingAndGlyphs">CC3-3</text>
<text x="256.60" y="828.02" font-size="7.1" text-anchor="start" fill="#262626" textLength="17.30" lengthAdjust="spacingAndGlyphs">CC4-2</text>
<text x="268.50" y="819.98" font-size="7.1" text-anchor="start" fill="#262626" textLength="17.30" lengthAdjust="spacingAndGlyphs">CC4-1</text>
<text x="280.40" y="811.94" font-size="7.1" text-anchor="start" fill="#262626" textLength="13.06" lengthAdjust="spacingAndGlyphs">SEM</text>
<text x="292.30" y="803.90" font-size="7.1" text-anchor="start" fill="#262626" textLength="30.73" lengthAdjust="spacingAndGlyphs">HY1 Room</text>
<text x="304.20" y="795.86" font-size="7.1" text-anchor="start" fill="#262626" textLength="30.73" lengthAdjust="spacingAndGlyphs">HY2 Room</text>
<text x="42.49" y="854.85" font-size="6.8" text-anchor="end" fill="#262626" textLength="43.58" lengthAdjust="spacingAndGlyphs" transform="rotate(-45 42.49 854.85)">FY2018 - 2nd H</text>
<text x="66.16" y="854.85" font-size="6.8" text-anchor="end" fill="#262626" textLength="41.28" lengthAdjust="spacingAndGlyphs" transform="rotate(-45 66.16 854.85)">FY2019 - 1st H</text>
<text x="89.84" y="854.85" font-size="6.8" text-anchor="end" fill="#262626" textLength="43.58" lengthAdjust="spacingAndGlyphs" transform="rotate(-45 89.84 854.85)">FY2019 - 2nd H</text>
<text x="113.51" y="854.85" font-size="6.8" text-anchor="end" fill="#262626" textLength="41.28" lengthAdjust="spacingAndGlyphs" transform="rotate(-45 113.51 854.85)">FY2020 - 1st H</text>
<text x="137.19" y="854.85" font-size="6.8" text-anchor="end" fill="#262626" textLength="43.58" lengthAdjust="spacingAndGlyphs" transform="rotate(-45 137.19 854.85)">FY2020 - 2nd H</text>
<text x="160.86" y="854.85" font-size="6.8" text-anchor="end" fill="#262626" textLength="41.28" lengthAdjust="spacingAndGlyphs" transform="rotate(-45 160.86 854.85)">FY2021 - 1st H</text>
<text x="184.54" y="854.85" font-size="6.8" text-anchor="end" fill="#262626" textLength="43.58" lengthAdjust="spacingAndGlyphs" transform="rotate(-45 184.54 854.85)">FY2021 - 2nd H</text>
<text x="208.21" y="854.85" font-size="6.8" text-anchor="end" fill="#262626" textLength="41.28" lengthAdjust="spacingAndGlyphs" transform="rotate(-45 208.21 854.85)">FY2022 - 1st H</text>
<text x="172.50" y="685.30" font-size="14.3" text-anchor="middle" fill="#000" textLength="8.01" lengthAdjust="spacingAndGlyphs">K</text>
<text x="-0.90" y="730.10" font-size="7.4" text-anchor="start" fill="#262626" textLength="2.99" lengthAdjust="spacingAndGlyphs" style="stroke-width:0.25px">E</text>
<text x="2.80" y="728.10" font-size="4.8" text-anchor="start" fill="#262626" textLength="1.99" lengthAdjust="spacingAndGlyphs" style="stroke-width:0.25px">9</text>
<text x="5.80" y="730.10" font-size="7.4" text-anchor="start" fill="#262626" textLength="32.63" lengthAdjust="spacingAndGlyphs" style="stroke-width:0.25px">atoms/cm</text>
<text x="38.80" y="728.10" font-size="4.8" text-anchor="start" fill="#262626" textLength="1.99" lengthAdjust="spacingAndGlyphs" style="stroke-width:0.25px">2</text>
<path d="M380.90 842.45L463.57 785.89L652.17 785.89 M380.90 821.66L463.57 765.17L652.17 765.17 M380.90 800.87L463.57 744.45L652.17 744.45 M380.90 780.08L463.57 723.73L652.17 723.73 M380.90 759.29L463.57 703.01L652.17 703.01 M380.90 738.50L463.57 682.29L652.17 682.29" stroke="#d9d9d9" stroke-width="0.75" fill="none"/>
<text x="372.70" y="844.75" font-size="7.2" text-anchor="end" fill="#262626" textLength="3.55" lengthAdjust="spacingAndGlyphs">0</text>
<text x="372.70" y="823.96" font-size="7.2" text-anchor="end" fill="#262626" textLength="3.55" lengthAdjust="spacingAndGlyphs">1</text>
<text x="372.70" y="803.17" font-size="7.2" text-anchor="end" fill="#262626" textLength="3.55" lengthAdjust="spacingAndGlyphs">2</text>
<text x="372.70" y="782.38" font-size="7.2" text-anchor="end" fill="#262626" textLength="3.55" lengthAdjust="spacingAndGlyphs">3</text>
<text x="372.70" y="761.59" font-size="7.2" text-anchor="end" fill="#262626" textLength="3.55" lengthAdjust="spacingAndGlyphs">4</text>
<text x="372.70" y="740.80" font-size="7.2" text-anchor="end" fill="#262626" textLength="3.55" lengthAdjust="spacingAndGlyphs">5</text>
<path d="M380.90 842.45H569.50 M380.90 842.85v-2.6 M404.47 842.85v-2.6 M428.05 842.85v-2.6 M451.62 842.85v-2.6 M475.20 842.85v-2.6 M498.77 842.85v-2.6 M522.35 842.85v-2.6 M545.92 842.85v-2.6 M569.50 842.85v-2.6" stroke="#8faadc" stroke-width="0.9" fill="none"/>
<polygon points="488.25,791.02 494.62,791.02 497.80,788.84 497.80,788.24 491.44,788.24 488.25,790.42" fill="#365b9d" stroke="#365b9d" stroke-width="0.3" stroke-linejoin="round"/>
<polygon points="511.83,791.02 518.19,791.02 521.38,788.84 521.38,788.24 515.01,788.24 511.83,790.42" fill="#365b9d" stroke="#365b9d" stroke-width="0.3" stroke-linejoin="round"/>
<polygon points="535.40,791.02 541.77,791.02 544.95,788.84 544.95,750.79 538.59,750.79 535.40,752.98" fill="#2e4e85"/>
<polygon points="535.40,752.98 541.77,752.98 544.95,750.79 538.59,750.79" fill="#3960a5"/>
<polygon points="535.40,791.02 541.77,791.02 541.77,752.98 535.40,752.98" fill="#4472C4"/>
<polygon points="558.98,791.02 565.34,791.02 568.53,788.84 568.53,788.24 562.16,788.24 558.98,790.42" fill="#365b9d" stroke="#365b9d" stroke-width="0.3" stroke-linejoin="round"/>
<polygon points="582.55,791.02 588.92,791.02 592.10,788.84 592.10,788.24 585.74,788.24 582.55,790.42" fill="#365b9d" stroke="#365b9d" stroke-width="0.3" stroke-linejoin="round"/>
<polygon points="606.13,791.02 612.49,791.02 615.68,788.84 615.68,786.76 609.31,786.76 606.13,788.94" fill="#2e4e85"/>
<polygon points="606.13,788.94 612.49,788.94 615.68,786.76 609.31,786.76" fill="#3960a5"/>
<polygon points="606.13,791.02 612.49,791.02 612.49,788.94 606.13,788.94" fill="#4472C4"/>
<polygon points="452.87,799.10 459.23,799.10 462.42,796.92 462.42,744.94 456.05,744.94 452.87,747.13" fill="#ad8300"/>
<polygon points="452.87,747.13 459.23,747.13 462.42,744.94 456.05,744.94" fill="#d6a100"/>
<polygon points="452.87,799.10 459.23,799.10 459.23,747.13 452.87,747.13" fill="#FFC000"/>
<polygon points="476.44,799.10 482.81,799.10 485.99,796.92 485.99,774.67 479.63,774.67 476.44,776.86" fill="#ad8300"/>
<polygon points="476.44,776.86 482.81,776.86 485.99,774.67 479.63,774.67" fill="#d6a100"/>
<polygon points="476.44,799.10 482.81,799.10 482.81,776.86 476.44,776.86" fill="#FFC000"/>
<polygon points="547.17,799.10 553.53,799.10 556.72,796.92 556.72,796.32 550.35,796.32 547.17,798.50" fill="#cc9a00" stroke="#cc9a00" stroke-width="0.3" stroke-linejoin="round"/>
<polygon points="617.89,799.10 624.26,799.10 627.44,796.92 627.44,796.32 621.08,796.32 617.89,798.50" fill="#cc9a00" stroke="#cc9a00" stroke-width="0.3" stroke-linejoin="round"/>
<polygon points="511.78,807.18 518.15,807.18 521.33,805.00 521.33,804.40 514.97,804.40 511.78,806.58" fill="#be6427" stroke="#be6427" stroke-width="0.3" stroke-linejoin="round"/>
<polygon points="582.51,807.18 588.87,807.18 592.06,805.00 592.06,804.40 585.69,804.40 582.51,806.58" fill="#be6427" stroke="#be6427" stroke-width="0.3" stroke-linejoin="round"/>
<polygon points="476.40,815.26 482.76,815.26 485.95,813.08 485.95,809.96 479.58,809.96 476.40,812.14" fill="#1a2e52"/>
<polygon points="476.40,812.14 482.76,812.14 485.95,809.96 479.58,809.96" fill="#203965"/>
<polygon points="476.40,815.26 482.76,815.26 482.76,812.14 476.40,812.14" fill="#264478"/>
<polygon points="523.55,815.26 529.91,815.26 533.10,813.08 533.10,804.76 526.73,804.76 523.55,806.94" fill="#1a2e52"/>
<polygon points="523.55,806.94 529.91,806.94 533.10,804.76 526.73,804.76" fill="#203965"/>
<polygon points="523.55,815.26 529.91,815.26 529.91,806.94 523.55,806.94" fill="#264478"/>
<polygon points="570.70,815.26 577.06,815.26 580.25,813.08 580.25,812.48 573.88,812.48 570.70,814.66" fill="#1e3660" stroke="#1e3660" stroke-width="0.3" stroke-linejoin="round"/>
<polygon points="441.01,823.34 447.38,823.34 450.56,821.16 450.56,820.56 444.20,820.56 441.01,822.74" fill="#5a8a39" stroke="#5a8a39" stroke-width="0.3" stroke-linejoin="round"/>
<polygon points="464.59,823.34 470.95,823.34 474.14,821.16 474.14,777.92 467.77,777.92 464.59,780.10" fill="#4c7630"/>
<polygon points="464.59,780.10 470.95,780.10 474.14,777.92 467.77,777.92" fill="#5e913c"/>
<polygon points="464.59,823.34 470.95,823.34 470.95,780.10 464.59,780.10" fill="#70AD47"/>
<polygon points="511.74,823.34 518.10,823.34 521.29,821.16 521.29,818.66 514.92,818.66 511.74,820.85" fill="#4c7630"/>
<polygon points="511.74,820.85 518.10,820.85 521.29,818.66 514.92,818.66" fill="#5e913c"/>
<polygon points="511.74,823.34 518.10,823.34 518.10,820.85 511.74,820.85" fill="#70AD47"/>
<polygon points="429.20,831.42 435.57,831.42 438.75,829.24 438.75,808.45 432.39,808.45 429.20,810.63" fill="#3e6991"/>
<polygon points="429.20,810.63 435.57,810.63 438.75,808.45 432.39,808.45" fill="#4c82b3"/>
<polygon points="429.20,831.42 435.57,831.42 435.57,810.63 429.20,810.63" fill="#5B9BD5"/>
<polygon points="452.78,831.42 459.14,831.42 462.33,829.24 462.33,788.70 455.96,788.70 452.78,790.88" fill="#3e6991"/>
<polygon points="452.78,790.88 459.14,790.88 462.33,788.70 455.96,788.70" fill="#4c82b3"/>
<polygon points="452.78,831.42 459.14,831.42 459.14,790.88 452.78,790.88" fill="#5B9BD5"/>
<polygon points="499.93,831.42 506.29,831.42 509.48,829.24 509.48,729.45 503.11,729.45 499.93,731.63" fill="#3e6991"/>
<polygon points="499.93,731.63 506.29,731.63 509.48,729.45 503.11,729.45" fill="#4c82b3"/>
<polygon points="499.93,831.42 506.29,831.42 506.29,731.63 499.93,731.63" fill="#5B9BD5"/>
<polygon points="393.82,839.50 400.18,839.50 403.37,837.32 403.37,829.00 397.00,829.00 393.82,831.18" fill="#707070"/>
<polygon points="393.82,831.18 400.18,831.18 403.37,829.00 397.00,829.00" fill="#8b8b8b"/>
<polygon points="393.82,839.50 400.18,839.50 400.18,831.18 393.82,831.18" fill="#A5A5A5"/>
<polygon points="417.39,839.50 423.76,839.50 426.94,837.32 426.94,836.72 420.58,836.72 417.39,838.90" fill="#848484" stroke="#848484" stroke-width="0.3" stroke-linejoin="round"/>
<polygon points="488.12,839.50 494.48,839.50 497.67,837.32 497.67,834.82 491.30,834.82 488.12,837.01" fill="#707070"/>
<polygon points="488.12,837.01 494.48,837.01 497.67,834.82 491.30,834.82" fill="#8b8b8b"/>
<polygon points="488.12,839.50 494.48,839.50 494.48,837.01 488.12,837.01" fill="#A5A5A5"/>
<polygon points="558.84,839.50 565.21,839.50 568.39,837.32 568.39,814.45 562.03,814.45 558.84,816.63" fill="#707070"/>
<polygon points="558.84,816.63 565.21,816.63 568.39,814.45 562.03,814.45" fill="#8b8b8b"/>
<polygon points="558.84,839.50 565.21,839.50 565.21,816.63 558.84,816.63" fill="#A5A5A5"/>
<text x="584.00" y="840.55" font-size="7.1" text-anchor="start" fill="#262626" textLength="11.40" lengthAdjust="spacingAndGlyphs">CC2</text>
<text x="595.81" y="832.59" font-size="7.1" text-anchor="start" fill="#262626" textLength="17.30" lengthAdjust="spacingAndGlyphs">CC3-3</text>
<text x="607.62" y="824.63" font-size="7.1" text-anchor="start" fill="#262626" textLength="17.30" lengthAdjust="spacingAndGlyphs">CC4-2</text>
<text x="619.43" y="816.67" font-size="7.1" text-anchor="start" fill="#262626" textLength="17.30" lengthAdjust="spacingAndGlyphs">CC4-1</text>
<text x="631.24" y="808.71" font-size="7.1" text-anchor="start" fill="#262626" textLength="13.06" lengthAdjust="spacingAndGlyphs">SEM</text>
<text x="643.05" y="800.75" font-size="7.1" text-anchor="start" fill="#262626" textLength="30.73" lengthAdjust="spacingAndGlyphs">HY1 Room</text>
<text x="654.86" y="792.79" font-size="7.1" text-anchor="start" fill="#262626" textLength="30.73" lengthAdjust="spacingAndGlyphs">HY2 Room</text>
<text x="394.44" y="852.00" font-size="6.8" text-anchor="end" fill="#262626" textLength="43.58" lengthAdjust="spacingAndGlyphs" transform="rotate(-45 394.44 852.00)">FY2018 - 2nd H</text>
<text x="418.01" y="852.00" font-size="6.8" text-anchor="end" fill="#262626" textLength="41.28" lengthAdjust="spacingAndGlyphs" transform="rotate(-45 418.01 852.00)">FY2019 - 1st H</text>
<text x="441.59" y="852.00" font-size="6.8" text-anchor="end" fill="#262626" textLength="43.58" lengthAdjust="spacingAndGlyphs" transform="rotate(-45 441.59 852.00)">FY2019 - 2nd H</text>
<text x="465.16" y="852.00" font-size="6.8" text-anchor="end" fill="#262626" textLength="41.28" lengthAdjust="spacingAndGlyphs" transform="rotate(-45 465.16 852.00)">FY2020 - 1st H</text>
<text x="488.74" y="852.00" font-size="6.8" text-anchor="end" fill="#262626" textLength="43.58" lengthAdjust="spacingAndGlyphs" transform="rotate(-45 488.74 852.00)">FY2020 - 2nd H</text>
<text x="512.31" y="852.00" font-size="6.8" text-anchor="end" fill="#262626" textLength="41.28" lengthAdjust="spacingAndGlyphs" transform="rotate(-45 512.31 852.00)">FY2021 - 1st H</text>
<text x="535.89" y="852.00" font-size="6.8" text-anchor="end" fill="#262626" textLength="43.58" lengthAdjust="spacingAndGlyphs" transform="rotate(-45 535.89 852.00)">FY2021 - 2nd H</text>
<text x="559.46" y="852.00" font-size="6.8" text-anchor="end" fill="#262626" textLength="41.28" lengthAdjust="spacingAndGlyphs" transform="rotate(-45 559.46 852.00)">FY2022 - 1st H</text>
<text x="530.80" y="680.40" font-size="14.3" text-anchor="middle" fill="#000" textLength="21.25" lengthAdjust="spacingAndGlyphs">Mn</text>
<text x="351.10" y="726.60" font-size="7.4" text-anchor="start" fill="#262626" textLength="2.99" lengthAdjust="spacingAndGlyphs" style="stroke-width:0.25px">E</text>
<text x="354.80" y="724.60" font-size="4.8" text-anchor="start" fill="#262626" textLength="1.99" lengthAdjust="spacingAndGlyphs" style="stroke-width:0.25px">9</text>
<text x="357.80" y="726.60" font-size="7.4" text-anchor="start" fill="#262626" textLength="32.63" lengthAdjust="spacingAndGlyphs" style="stroke-width:0.25px">atoms/cm</text>
<text x="390.80" y="724.60" font-size="4.8" text-anchor="start" fill="#262626" textLength="1.99" lengthAdjust="spacingAndGlyphs" style="stroke-width:0.25px">2</text>
</svg>
</body></html>
